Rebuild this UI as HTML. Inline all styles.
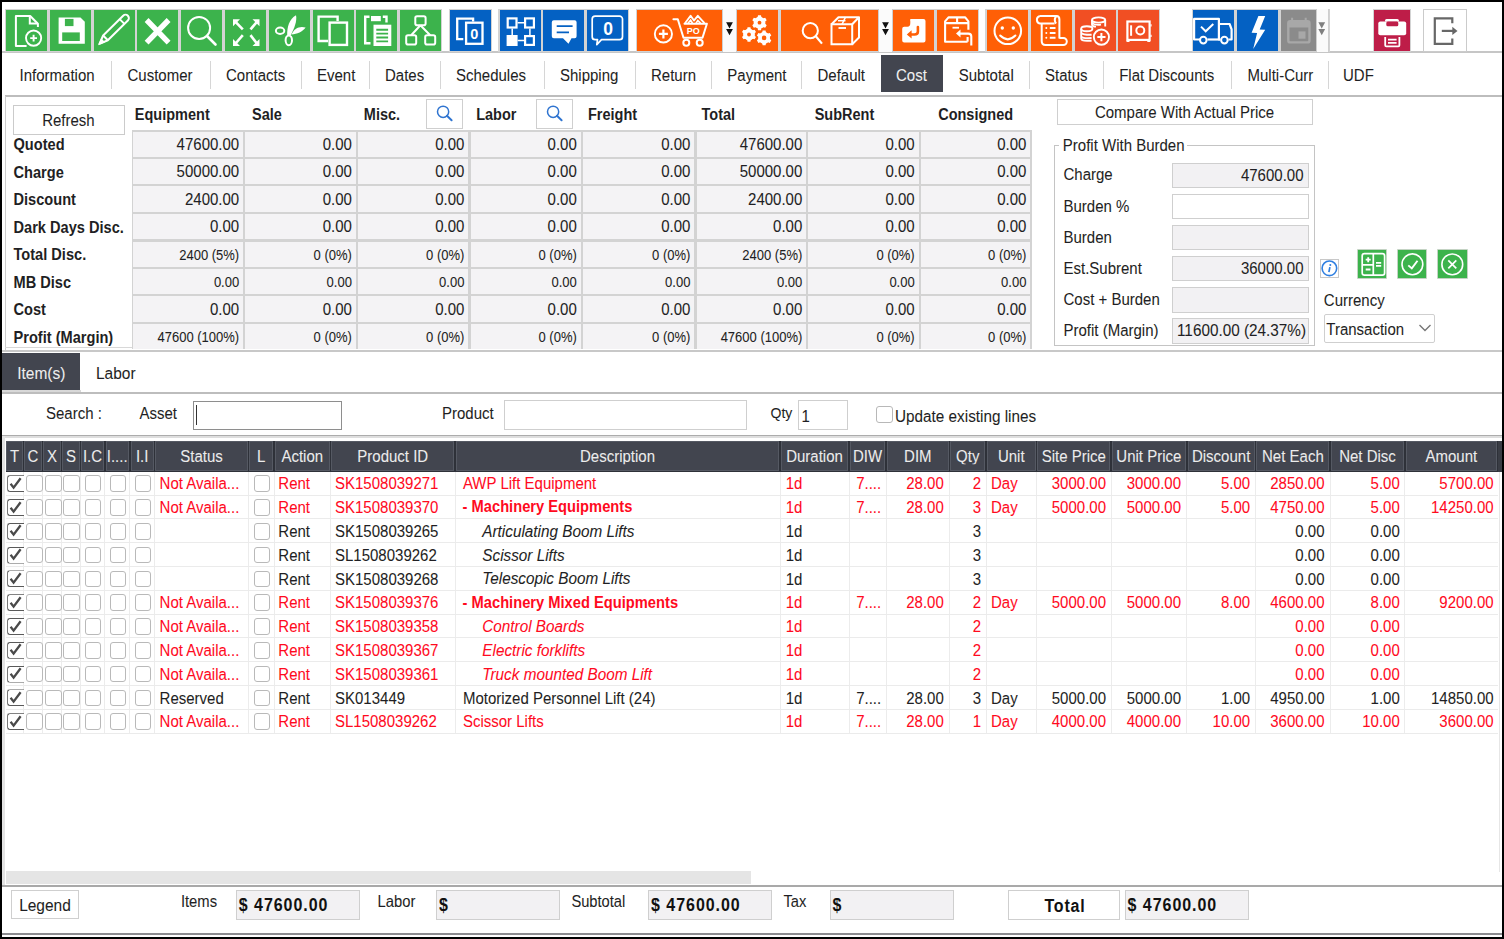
<!DOCTYPE html>
<html><head><meta charset="utf-8"><style>
html,body{margin:0;padding:0}
body{width:1504px;height:939px;background:#000;position:relative;overflow:hidden;font-family:"Liberation Sans",sans-serif}
#m{position:absolute;left:2px;top:2px;width:1500px;height:935px;background:#fff;overflow:hidden}
.a{position:absolute}
.t{white-space:nowrap}
svg{display:block}
</style></head><body><div id="m" style="left:0;top:0;width:1504px;height:939px;background:transparent">
<div class="a" style="left:2px;top:2px;width:1500px;height:935px;background:#fff"></div>
<div class="a" style="left:2px;top:51px;width:1500px;height:2px;background:#c6c6c6"></div>
<div class="a" style="left:4.8px;top:9px;width:437.4px;height:43px;background:#d3d3d3"></div>
<div class="a" style="left:448.8px;top:9px;width:43.4px;height:43px;background:#d3d3d3"></div>
<div class="a" style="left:498.3px;top:9px;width:131.00000000000003px;height:43px;background:#d3d3d3"></div>
<div class="a" style="left:635.8px;top:9px;width:343.4px;height:43px;background:#d3d3d3"></div>
<div class="a" style="left:985.3px;top:9px;width:175.19999999999996px;height:43px;background:#d3d3d3"></div>
<div class="a" style="left:1191.8px;top:9px;width:138.4px;height:43px;background:#d3d3d3"></div>
<div class="a" style="left:1373.1px;top:9px;width:37.9px;height:43px;background:#d3d3d3"></div>
<div class="a" style="left:6.0px;top:10px;width:41px;height:41px;background:#3cb34c"><svg width="41" height="41" viewBox="0 0 41 41" ><path d="M20.6 36H9.9V6H24.2L31.9 13.7V17" fill="none" stroke="#fff" stroke-width="2" stroke-linejoin="round"/><path d="M23.8 6V13.6H31.9" fill="none" stroke="#fff" stroke-width="2"/><circle cx="27.6" cy="28.1" r="7.6" fill="none" stroke="#fff" stroke-width="1.9"/><path d="M27.6 24.7V31.5M24.2 28.1H31" fill="none" stroke="#fff" stroke-width="1.9"/></svg></div>
<div class="a" style="left:49.8px;top:10px;width:41px;height:41px;background:#3cb34c"><svg width="41" height="41" viewBox="0 0 41 41" ><path d="M8.6 7.5H30.5L34.8 11.8V33.7H8.6Z" fill="#fff"/><rect x="14.9" y="8.9" width="8.6" height="7.2" fill="#3cb34c"/><rect x="12.2" y="22.4" width="17.6" height="8.6" fill="#3cb34c"/></svg></div>
<div class="a" style="left:93.6px;top:10px;width:41px;height:41px;background:#3cb34c"><svg width="41" height="41" viewBox="0 0 41 41" ><g transform="rotate(-44.7 19.5 19.95)"><path d="M-0.2 19.95L8.2 16.6H36.4A3.35 3.35 0 0 1 36.4 23.3H8.2Z" fill="none" stroke="#fff" stroke-width="2" stroke-linejoin="round"/><path d="M8.2 16.6V23.3M31.5 16.6V23.3" fill="none" stroke="#fff" stroke-width="2"/><path d="M-0.2 19.95L4.2 18.2V21.7Z" fill="#fff" stroke="#fff" stroke-width="1.5"/></g></svg></div>
<div class="a" style="left:137.39999999999998px;top:10px;width:41px;height:41px;background:#3cb34c"><svg width="41" height="41" viewBox="0 0 41 41" ><path d="M9.6 10L31.6 32.6M31.6 10L9.6 32.6" fill="none" stroke="#fff" stroke-width="5.4" stroke-linecap="butt"/></svg></div>
<div class="a" style="left:181.2px;top:10px;width:41px;height:41px;background:#3cb34c"><svg width="41" height="41" viewBox="0 0 41 41" ><circle cx="18.1" cy="17.9" r="11" fill="none" stroke="#fff" stroke-width="2"/><path d="M26 26L34.5 34.5" fill="none" stroke="#fff" stroke-width="2.6" stroke-linecap="round"/></svg></div>
<div class="a" style="left:225.0px;top:10px;width:41px;height:41px;background:#3cb34c"><svg width="41" height="41" viewBox="0 0 41 41" ><path d="M8 9.3H15L8 16.3Z" fill="#fff"/><path d="M11 12.3L17.8 19.3" fill="none" stroke="#fff" stroke-width="2.6"/><path d="M34.5 9.3H27.5L34.5 16.3Z" fill="#fff"/><path d="M31.5 12.3L25.5 19.3" fill="none" stroke="#fff" stroke-width="2.6"/><path d="M8 36H15L8 29Z" fill="#fff"/><path d="M11 33L17.8 25.1" fill="none" stroke="#fff" stroke-width="2.6"/><path d="M34.5 36H27.5L34.5 29Z" fill="#fff"/><path d="M31.5 33L25.5 25.1" fill="none" stroke="#fff" stroke-width="2.6"/></svg></div>
<div class="a" style="left:268.79999999999995px;top:10px;width:41px;height:41px;background:#3cb34c"><svg width="41" height="41" viewBox="0 0 41 41" ><ellipse cx="11.1" cy="20.8" rx="4.2" ry="3.2" fill="none" stroke="#fff" stroke-width="2"/><ellipse cx="19.8" cy="30.3" rx="3.2" ry="4.9" fill="none" stroke="#fff" stroke-width="2"/><path d="M27 5.2C20.5 8.8 17.8 17 18.2 25.6L21.8 25.2C25.2 18.2 28.3 11 27 5.2Z" fill="#fff"/><path d="M36.6 17.6C31 15.6 25 18.3 22.4 24.6C28.2 24.3 33.6 21.8 36.6 17.6Z" fill="#fff"/></svg></div>
<div class="a" style="left:312.59999999999997px;top:10px;width:41px;height:41px;background:#3cb34c"><svg width="41" height="41" viewBox="0 0 41 41" ><path d="M15 31H5.6V6.6H24.6V11" fill="none" stroke="#fff" stroke-width="2.4"/><rect x="16.6" y="12.6" width="17.4" height="22.3" fill="none" stroke="#fff" stroke-width="2.4"/></svg></div>
<div class="a" style="left:356.4px;top:10px;width:41px;height:41px;background:#3cb34c"><svg width="41" height="41" viewBox="0 0 41 41" ><path d="M13.5 6.8H9.2V33.2H14.5" fill="none" stroke="#fff" stroke-width="2.4"/><rect x="15" y="6" width="9.8" height="5.2" fill="#fff"/><path d="M26.8 6.8H30.5V12.5" fill="none" stroke="#fff" stroke-width="2.4"/><rect x="17.5" y="14.7" width="17.8" height="21.3" fill="#fff"/><path d="M20.3 19.7H32.1M20.3 23.6H32.1M20.3 27.5H32.1M20.3 31.4H32.1" stroke="#3cb34c" stroke-width="1.9"/></svg></div>
<div class="a" style="left:400.2px;top:10px;width:41px;height:41px;background:#3cb34c"><svg width="41" height="41" viewBox="0 0 41 41" ><rect x="15.3" y="6.2" width="10.3" height="9" rx="1.8" fill="none" stroke="#fff" stroke-width="2"/><rect x="6.2" y="25.2" width="10" height="9.4" rx="1.8" fill="none" stroke="#fff" stroke-width="2"/><rect x="25.2" y="25.2" width="10" height="9.4" rx="1.8" fill="none" stroke="#fff" stroke-width="2"/><path d="M20.4 15.2L11.2 25.2M20.4 15.2L30.2 25.2" fill="none" stroke="#fff" stroke-width="2"/></svg></div>
<div class="a" style="left:450px;top:10px;width:41px;height:41px;background:#0461c3"><svg width="41" height="41" viewBox="0 0 41 41" ><path d="M13.3 29.2H7.2V8.6H23.1V11.5" fill="none" stroke="#fff" stroke-width="2.3"/><rect x="16.1" y="12.7" width="16.4" height="21.1" fill="none" stroke="#fff" stroke-width="2.3"/><text x="24.4" y="28.6" font-family="Liberation Sans" font-weight="bold" font-size="14.5" fill="#fff" text-anchor="middle">0</text></svg></div>
<div class="a" style="left:499.5px;top:10px;width:41px;height:41px;background:#0461c3"><svg width="41" height="41" viewBox="0 0 41 41" ><rect x="7.7" y="8.4" width="8.8" height="9.1" fill="none" stroke="#fff" stroke-width="2.2"/><rect x="25.1" y="8.4" width="8.8" height="9.1" fill="none" stroke="#fff" stroke-width="2.2"/><rect x="6.6" y="25" width="11" height="11" fill="#fff"/><rect x="25.1" y="26.1" width="8.8" height="8.8" fill="none" stroke="#fff" stroke-width="2.2"/><path d="M17.6 12.7H24M12.2 18.6V25M29.9 18.6V25M17.6 30.6H24" fill="none" stroke="#fff" stroke-width="1.5"/></svg></div>
<div class="a" style="left:543.3px;top:10px;width:41px;height:41px;background:#0461c3"><svg width="41" height="41" viewBox="0 0 41 41" ><path d="M10.8 10.2H31.6A2 2 0 0 1 33.6 12.2V26.3A2 2 0 0 1 31.6 28.3H28.5L25.5 33.7L20 28.3H10.8A2 2 0 0 1 8.8 26.3V12.2A2 2 0 0 1 10.8 10.2Z" fill="#fff"/><path d="M13.7 16.1H29.6M13.7 22.4H26" stroke="#0461c3" stroke-width="1.9"/></svg></div>
<div class="a" style="left:587.1px;top:10px;width:41px;height:41px;background:#0461c3"><svg width="41" height="41" viewBox="0 0 41 41" ><path d="M8.2 6.1H32.5A3 3 0 0 1 35.5 9.1V26.7A3 3 0 0 1 32.5 29.7H14.5L9.8 34.6L10.5 29.7H8.2A3 3 0 0 1 5.2 26.7V9.1A3 3 0 0 1 8.2 6.1Z" fill="none" stroke="#fff" stroke-width="1.7" stroke-linejoin="round"/><text x="21" y="24.9" font-family="Liberation Sans" font-weight="bold" font-size="17.5" fill="#fff" text-anchor="middle">0</text></svg></div>
<div class="a" style="left:637px;top:10px;width:85px;height:41px;background:#ff5f06"><svg width="85" height="41" viewBox="0 0 85 41" ><circle cx="26.4" cy="23.9" r="8.6" fill="none" stroke="#fff" stroke-width="1.9"/><path d="M26.4 19.4V28.4M21.9 23.9H30.9" fill="none" stroke="#fff" stroke-width="2.2"/><path d="M36.4 9.2H40.8L46.5 27.7H65.5L69.9 13.7H47.5" fill="none" stroke="#fff" stroke-width="2" stroke-linejoin="round" stroke-linecap="round"/><path d="M48 13.2L53.6 5.8L57 10.5L60.8 5.8L67.5 13.2" fill="none" stroke="#fff" stroke-width="1.9" stroke-linejoin="round"/><path d="M51 13.2L53.6 10.2L55.5 13.2M59 13.2L60.8 10.6L63.5 13.2" fill="none" stroke="#fff" stroke-width="1.6"/><text x="56.2" y="24.3" font-family="Liberation Sans" font-weight="bold" font-size="9" fill="#fff" text-anchor="middle">PO</text><circle cx="49.3" cy="32.8" r="3" fill="none" stroke="#fff" stroke-width="2"/><circle cx="62.7" cy="32.8" r="3" fill="none" stroke="#fff" stroke-width="2"/></svg></div>
<div class="a" style="left:722px;top:9px;width:15px;height:43px;background:#fbfbfb;border-left:1.5px solid #cfcfcf;border-right:1.5px solid #cfcfcf;box-sizing:border-box"><svg width="15" height="43" style="position:absolute;left:-1.5px;top:0"><path d="M4.1 13.3H10.9L7.5 19.5Z M4.1 20H10.9L7.5 26.3Z" fill="#111"/></svg></div>
<div class="a" style="left:737px;top:10px;width:41px;height:41px;background:#ff5f06"><svg width="41" height="41" viewBox="0 0 41 41" ><path d="M20.62 7.11 L21.03 5.24 L23.97 5.24 L24.38 7.11 L26.40 8.27 L28.22 7.70 L29.69 10.25 L28.28 11.53 L28.28 13.87 L29.69 15.15 L28.22 17.70 L26.40 17.13 L24.38 18.29 L23.97 20.16 L21.03 20.16 L20.62 18.29 L18.60 17.13 L16.78 17.70 L15.31 15.15 L16.72 13.87 L16.72 11.53 L15.31 10.25 L16.78 7.70 L18.60 8.27Z" fill="#fff"/><circle cx="22.5" cy="12.7" r="5.66" fill="#fff"/><circle cx="22.5" cy="12.7" r="1.9" fill="#ff5f06"/><path d="M10.15 19.00 L10.57 17.24 L13.43 17.24 L13.85 19.00 L15.84 20.15 L17.57 19.63 L19.00 22.11 L17.69 23.35 L17.69 25.65 L19.00 26.89 L17.57 29.37 L15.84 28.85 L13.85 30.00 L13.43 31.76 L10.57 31.76 L10.15 30.00 L8.16 28.85 L6.43 29.37 L5.00 26.89 L6.31 25.65 L6.31 23.35 L5.00 22.11 L6.43 19.63 L8.16 20.15Z" fill="#fff"/><circle cx="12" cy="24.5" r="5.57" fill="#fff"/><circle cx="12" cy="24.5" r="1.9" fill="#ff5f06"/><path d="M25.22 22.31 L25.63 20.44 L28.57 20.44 L28.98 22.31 L31.00 23.47 L32.82 22.90 L34.29 25.45 L32.88 26.73 L32.88 29.07 L34.29 30.35 L32.82 32.90 L31.00 32.33 L28.98 33.49 L28.57 35.36 L25.63 35.36 L25.22 33.49 L23.20 32.33 L21.38 32.90 L19.91 30.35 L21.32 29.07 L21.32 26.73 L19.91 25.45 L21.38 22.90 L23.20 23.47Z" fill="#fff"/><circle cx="27.1" cy="27.9" r="5.66" fill="#fff"/><circle cx="27.1" cy="27.9" r="2.3" fill="#ff5f06"/></svg></div>
<div class="a" style="left:781px;top:10px;width:97px;height:41px;background:#ff5f06"><svg width="97" height="41" viewBox="0 0 97 41" ><circle cx="29.3" cy="20.7" r="7.6" fill="none" stroke="#fff" stroke-width="2"/><path d="M34.8 26.3L41 33.6" fill="none" stroke="#fff" stroke-width="2.2"/><path d="M50.5 14.3H71.2V34.3H50.5Z" fill="none" stroke="#fff" stroke-width="2"/><path d="M50.5 14.3L57.5 7.2H78L71.2 14.3M78 7.2V27.5L71.2 34.3" fill="none" stroke="#fff" stroke-width="2" stroke-linejoin="round"/><path d="M57 10.7H64.5" fill="none" stroke="#fff" stroke-width="1.5"/><path d="M64.5 7.2L61 14.3" fill="none" stroke="#fff" stroke-width="1.5"/><path d="M57.5 18H65" fill="none" stroke="#fff" stroke-width="1.9"/></svg></div>
<div class="a" style="left:878px;top:9px;width:15px;height:43px;background:#fbfbfb;border-left:1.5px solid #cfcfcf;border-right:1.5px solid #cfcfcf;box-sizing:border-box"><svg width="15" height="43" style="position:absolute;left:-1.5px;top:0"><path d="M4.1 13.3H10.9L7.5 19.5Z M4.1 20H10.9L7.5 26.3Z" fill="#111"/></svg></div>
<div class="a" style="left:893px;top:10px;width:41px;height:41px;background:#ff5f06"><svg width="41" height="41" viewBox="0 0 41 41" ><path d="M17.5 9H30.5A2 2 0 0 1 32.5 11V30.5A2 2 0 0 1 30.5 32.5H11.2A2 2 0 0 1 9.2 30.5V18.8A2 2 0 0 1 11.2 16.8H14.5Q17.3 16.8 17.3 13V11A2 2 0 0 1 17.5 9Z" fill="#fff"/><path d="M24.9 17V21.5Q24.9 24.5 21.5 24.5H16.5" fill="none" stroke="#ff5f06" stroke-width="2.6" stroke-linecap="round"/><path d="M13.8 24.5L18.6 20.3V28.6Z" fill="#ff5f06"/></svg></div>
<div class="a" style="left:937px;top:10px;width:41px;height:41px;background:#ff5f06"><svg width="41" height="41" viewBox="0 0 41 41" ><path d="M30.6 31.7H8.1V11.4L11.5 7.4H28.2L31.4 11.4V19.7" fill="none" stroke="#fff" stroke-width="2.1" stroke-linejoin="round"/><path d="M8.1 13.1H31.4M20.1 7.4V13.1" fill="none" stroke="#fff" stroke-width="2.1"/><path d="M15.5 17.7H22" fill="none" stroke="#fff" stroke-width="1.8"/><path d="M30.6 27V31.7" fill="none" stroke="#fff" stroke-width="2.1"/><path d="M34.3 35.6V26.6Q34.3 23.6 31.3 23.6H22.5" fill="none" stroke="#fff" stroke-width="2.1"/><path d="M19 23.6L23.5 19.6V27.6Z" fill="#fff"/></svg></div>
<div class="a" style="left:986.5px;top:10px;width:41px;height:41px;background:#ff5f06"><svg width="41" height="41" viewBox="0 0 41 41" ><circle cx="20.8" cy="20.8" r="13.3" fill="none" stroke="#fff" stroke-width="2"/><circle cx="15.3" cy="18" r="1.7" fill="#fff"/><circle cx="26.3" cy="18" r="1.7" fill="#fff"/><path d="M13.2 25.6Q20.8 33 28.4 25.6" fill="none" stroke="#fff" stroke-width="2.1" stroke-linecap="round"/></svg></div>
<div class="a" style="left:1031px;top:10px;width:41px;height:41px;background:#ff5f06"><svg width="41" height="41" viewBox="0 0 41 41" ><path d="M8.9 6H25.6Q28.4 6 28.4 9.5V28.5" fill="none" stroke="#fff" stroke-width="2"/><path d="M8.9 6A3.9 3.9 0 0 0 8.9 13.6H23.6" fill="none" stroke="#fff" stroke-width="2"/><path d="M25.3 6.2Q22.5 9.8 25 13.6" fill="none" stroke="#fff" stroke-width="2"/><path d="M10.7 13.6V31Q10.7 35 14.5 35H32.3A3.5 3.5 0 0 0 32.3 28H28.4" fill="none" stroke="#fff" stroke-width="2"/><path d="M18.8 17.9H24.5M18.8 22.9H24.5M18.8 27.7H24.5" fill="none" stroke="#fff" stroke-width="2"/><circle cx="15.3" cy="17.9" r="1" fill="#fff"/><circle cx="15.3" cy="22.9" r="1" fill="#fff"/><circle cx="15.3" cy="27.7" r="1" fill="#fff"/></svg></div>
<div class="a" style="left:1074.7px;top:10px;width:41px;height:41px;background:#f14f23"><svg width="41" height="41" viewBox="0 0 41 41" ><ellipse cx="23.6" cy="10" rx="6.6" ry="2.6" fill="none" stroke="#fff" stroke-width="1.9"/><path d="M17 10V14.2Q17 16.6 21 16.6M30.2 10V16.5" fill="none" stroke="#fff" stroke-width="1.9"/><path d="M17 13.2Q21 15.6 26 14.6" fill="none" stroke="#fff" stroke-width="1.6"/><ellipse cx="11.8" cy="18.8" rx="5.6" ry="2.5" fill="none" stroke="#fff" stroke-width="1.9"/><path d="M6.2 18.8V28.5Q6.2 30.8 12 30.8H16.6M6.2 22.8Q8 25 16.6 24.8M6.2 26.6Q8 28.6 16.6 28" fill="none" stroke="#fff" stroke-width="1.9"/><circle cx="26.4" cy="27.1" r="7.6" fill="none" stroke="#fff" stroke-width="1.9"/><path d="M26.4 23V31.2M22.3 27.1H30.5" fill="none" stroke="#fff" stroke-width="2"/></svg></div>
<div class="a" style="left:1118.3px;top:10px;width:41px;height:41px;background:#f14f23"><svg width="41" height="41" viewBox="0 0 41 41" ><rect x="9.4" y="11.5" width="22.2" height="18.4" fill="none" stroke="#fff" stroke-width="2.2"/><path d="M10 30.5V32M30.8 30.5V32" fill="none" stroke="#fff" stroke-width="3"/><path d="M32.4 15.3H33.6M32.4 25.8H33.6" fill="none" stroke="#fff" stroke-width="2.2"/><path d="M13.1 15.3V25.8" fill="none" stroke="#fff" stroke-width="2"/><circle cx="22.3" cy="20.5" r="4" fill="none" stroke="#fff" stroke-width="2"/></svg></div>
<div class="a" style="left:1193px;top:10px;width:41px;height:41px;background:#0461c3"><svg width="41" height="41" viewBox="0 0 41 41" ><path d="M7 29.5H1.1V8.9H25.9V29.5H27.2M35.4 29.5H38.6V19.4L36.6 14H25.9" fill="none" stroke="#fff" stroke-width="2.2" stroke-linejoin="round"/><path d="M14.4 29.5H27.2" fill="none" stroke="#fff" stroke-width="2.2"/><circle cx="10.3" cy="30.1" r="3.3" fill="none" stroke="#fff" stroke-width="2"/><circle cx="31.4" cy="30.1" r="3.3" fill="none" stroke="#fff" stroke-width="2"/><path d="M8 16.6L12.7 21.3L20.3 14" fill="none" stroke="#fff" stroke-width="2"/></svg></div>
<div class="a" style="left:1237px;top:10px;width:41px;height:41px;background:#0461c3"><svg width="41" height="41" viewBox="0 0 41 41" ><path d="M21.4 6.1H28.2L22.7 19.4L28.2 19.7L16.2 38.9L20.1 23L14.6 22.8Z" fill="#fff"/></svg></div>
<div class="a" style="left:1281px;top:10px;width:35px;height:41px;background:#8b8b8b"><svg width="35" height="41" viewBox="0 0 35 41" ><rect x="7.3" y="11.2" width="21.2" height="21.2" rx="2" fill="none" stroke="#a8a8a8" stroke-width="2.4"/><rect x="7.3" y="11.2" width="21.2" height="6.3" fill="#a8a8a8"/><path d="M11.1 7.8V11M24.7 7.8V11" stroke="#a8a8a8" stroke-width="2"/><rect x="17.5" y="21.4" width="7" height="7.3" fill="#a8a8a8"/></svg></div>
<div class="a" style="left:1315.5px;top:9px;width:13.5px;height:43px;background:#fbfbfb;border-left:1.5px solid #cfcfcf;border-right:1.5px solid #cfcfcf;box-sizing:border-box"><svg width="13.5" height="43" style="position:absolute;left:-1.5px;top:0"><path d="M3.35 13.3H10.15L6.75 19.5Z M3.35 20H10.15L6.75 26.3Z" fill="#808080"/></svg></div>
<div class="a" style="left:1374.3px;top:10px;width:35.5px;height:41px;background:#be1d48"><svg width="35.5" height="41" viewBox="0 0 35.5 41" ><path d="M11 11.6V10.5Q11 9 12.5 9H23.4Q24.9 9 24.9 10.5V11.6" fill="#fff"/><rect x="4.3" y="11.6" width="27.9" height="13.7" rx="2" fill="#fff"/><rect x="12.3" y="11.6" width="12" height="4.7" rx="1.5" fill="#be1d48"/><path d="M11.2 27V35.2Q11.2 36.3 12.3 36.3H24.3Q25.4 36.3 25.4 35.2V27" fill="none" stroke="#fff" stroke-width="1.8"/><path d="M14 29.6H22.6M14 32.9H22.6" fill="none" stroke="#fff" stroke-width="1.8"/></svg></div>
<div class="a" style="left:1423px;top:9px;width:44px;height:43px;background:#fff;border:1.3px solid #cbcbcb;box-sizing:border-box"><svg width="44" height="43" style="position:absolute;left:-1.3px;top:-1.3px"><path d="M29.3 14.3V9.3H11.8V34.9H29.3V29.6" fill="none" stroke="#676767" stroke-width="2.2"/><path d="M18.8 21.9H32" fill="none" stroke="#676767" stroke-width="2.2"/><path d="M34.5 21.9L29.3 17.8V26Z" fill="#676767"/></svg></div>
<div class="a" style="left:111px;top:61px;width:1px;height:28px;background:#d6d6d6"></div>
<div class="a" style="left:210px;top:61px;width:1px;height:28px;background:#d6d6d6"></div>
<div class="a" style="left:301px;top:61px;width:1px;height:28px;background:#d6d6d6"></div>
<div class="a" style="left:368.75px;top:61px;width:1px;height:28px;background:#d6d6d6"></div>
<div class="a" style="left:440px;top:61px;width:1px;height:28px;background:#d6d6d6"></div>
<div class="a" style="left:543.75px;top:61px;width:1px;height:28px;background:#d6d6d6"></div>
<div class="a" style="left:635px;top:61px;width:1px;height:28px;background:#d6d6d6"></div>
<div class="a" style="left:711px;top:61px;width:1px;height:28px;background:#d6d6d6"></div>
<div class="a" style="left:801px;top:61px;width:1px;height:28px;background:#d6d6d6"></div>
<div class="a" style="left:1028.75px;top:61px;width:1px;height:28px;background:#d6d6d6"></div>
<div class="a" style="left:1102.5px;top:61px;width:1px;height:28px;background:#d6d6d6"></div>
<div class="a" style="left:1231px;top:61px;width:1px;height:28px;background:#d6d6d6"></div>
<div class="a" style="left:1327.5px;top:61px;width:1px;height:28px;background:#d6d6d6"></div>
<div class="a" style="left:880.75px;top:55px;width:61.75px;height:37px;background:#42454f"></div>
<div class="a t" style="left:19.6px;top:68.30px;font-size:15px;line-height:15px;color:#1f1f24;transform:scaleY(1.1);transform-origin:0 12.70px;-webkit-text-stroke:0.06px currentColor">Information</div>
<div class="a t" style="left:127.5px;top:68.30px;font-size:15px;line-height:15px;color:#1f1f24;transform:scaleY(1.1);transform-origin:0 12.70px;-webkit-text-stroke:0.06px currentColor">Customer</div>
<div class="a t" style="left:226px;top:68.30px;font-size:15px;line-height:15px;color:#1f1f24;transform:scaleY(1.1);transform-origin:0 12.70px;-webkit-text-stroke:0.06px currentColor">Contacts</div>
<div class="a t" style="left:317px;top:68.30px;font-size:15px;line-height:15px;color:#1f1f24;transform:scaleY(1.1);transform-origin:0 12.70px;-webkit-text-stroke:0.06px currentColor">Event</div>
<div class="a t" style="left:385px;top:68.30px;font-size:15px;line-height:15px;color:#1f1f24;transform:scaleY(1.1);transform-origin:0 12.70px;-webkit-text-stroke:0.06px currentColor">Dates</div>
<div class="a t" style="left:456px;top:68.30px;font-size:15px;line-height:15px;color:#1f1f24;transform:scaleY(1.1);transform-origin:0 12.70px;-webkit-text-stroke:0.06px currentColor">Schedules</div>
<div class="a t" style="left:560px;top:68.30px;font-size:15px;line-height:15px;color:#1f1f24;transform:scaleY(1.1);transform-origin:0 12.70px;-webkit-text-stroke:0.06px currentColor">Shipping</div>
<div class="a t" style="left:651px;top:68.30px;font-size:15px;line-height:15px;color:#1f1f24;transform:scaleY(1.1);transform-origin:0 12.70px;-webkit-text-stroke:0.06px currentColor">Return</div>
<div class="a t" style="left:727.3px;top:68.30px;font-size:15px;line-height:15px;color:#1f1f24;transform:scaleY(1.1);transform-origin:0 12.70px;-webkit-text-stroke:0.06px currentColor">Payment</div>
<div class="a t" style="left:817.5px;top:68.30px;font-size:15px;line-height:15px;color:#1f1f24;transform:scaleY(1.1);transform-origin:0 12.70px;-webkit-text-stroke:0.06px currentColor">Default</div>
<div class="a t" style="left:896px;top:68.30px;font-size:15px;line-height:15px;color:#f0f0f0;transform:scaleY(1.1);transform-origin:0 12.70px;-webkit-text-stroke:0.06px currentColor">Cost</div>
<div class="a t" style="left:958.75px;top:68.30px;font-size:15px;line-height:15px;color:#1f1f24;transform:scaleY(1.1);transform-origin:0 12.70px;-webkit-text-stroke:0.06px currentColor">Subtotal</div>
<div class="a t" style="left:1045px;top:68.30px;font-size:15px;line-height:15px;color:#1f1f24;transform:scaleY(1.1);transform-origin:0 12.70px;-webkit-text-stroke:0.06px currentColor">Status</div>
<div class="a t" style="left:1119.2px;top:68.30px;font-size:15px;line-height:15px;color:#1f1f24;transform:scaleY(1.1);transform-origin:0 12.70px;-webkit-text-stroke:0.06px currentColor">Flat Discounts</div>
<div class="a t" style="left:1247.5px;top:68.30px;font-size:15px;line-height:15px;color:#1f1f24;transform:scaleY(1.1);transform-origin:0 12.70px;-webkit-text-stroke:0.06px currentColor">Multi-Curr</div>
<div class="a t" style="left:1343px;top:68.30px;font-size:15px;line-height:15px;color:#1f1f24;transform:scaleY(1.1);transform-origin:0 12.70px;-webkit-text-stroke:0.06px currentColor">UDF</div>
<div class="a" style="left:4.7px;top:95.3px;width:1497.3px;height:2.1px;background:#bdbdbd"></div>
<div class="a" style="left:4.7px;top:96px;width:1.4px;height:254px;background:#cdcdcd"></div>
<div class="a" style="left:2px;top:350px;width:1500px;height:1.5px;background:#c8c8c8"></div>
<div class="a" style="left:5px;top:347px;width:127.5px;height:1.2px;background:#d8d8d8"></div>
<div class="a" style="left:13.1px;top:105px;width:112.4px;height:29.6px;border:1.2px solid #cbcbcb;box-sizing:border-box;background:#fff"></div>
<div class="a t" style="left:13.400000000000006px;width:110px;text-align:center;top:112.80px;font-size:15px;line-height:15px;color:#1f1f24;transform:scaleY(1.1);transform-origin:0 12.70px;-webkit-text-stroke:0.06px currentColor">Refresh</div>
<div class="a t" style="left:134.8px;top:107.93px;font-size:14.5px;line-height:14.5px;font-weight:bold;color:#1f1f24;transform:scaleY(1.1);transform-origin:0 12.27px;-webkit-text-stroke:0px currentColor">Equipment</div>
<div class="a t" style="left:252px;top:107.93px;font-size:14.5px;line-height:14.5px;font-weight:bold;color:#1f1f24;transform:scaleY(1.1);transform-origin:0 12.27px;-webkit-text-stroke:0px currentColor">Sale</div>
<div class="a t" style="left:363.8px;top:107.93px;font-size:14.5px;line-height:14.5px;font-weight:bold;color:#1f1f24;transform:scaleY(1.1);transform-origin:0 12.27px;-webkit-text-stroke:0px currentColor">Misc.</div>
<div class="a t" style="left:476.2px;top:107.93px;font-size:14.5px;line-height:14.5px;font-weight:bold;color:#1f1f24;transform:scaleY(1.1);transform-origin:0 12.27px;-webkit-text-stroke:0px currentColor">Labor</div>
<div class="a t" style="left:588px;top:107.93px;font-size:14.5px;line-height:14.5px;font-weight:bold;color:#1f1f24;transform:scaleY(1.1);transform-origin:0 12.27px;-webkit-text-stroke:0px currentColor">Freight</div>
<div class="a t" style="left:701.5px;top:107.93px;font-size:14.5px;line-height:14.5px;font-weight:bold;color:#1f1f24;transform:scaleY(1.1);transform-origin:0 12.27px;-webkit-text-stroke:0px currentColor">Total</div>
<div class="a t" style="left:814.7px;top:107.93px;font-size:14.5px;line-height:14.5px;font-weight:bold;color:#1f1f24;transform:scaleY(1.1);transform-origin:0 12.27px;-webkit-text-stroke:0px currentColor">SubRent</div>
<div class="a t" style="left:938.2px;top:107.93px;font-size:14.5px;line-height:14.5px;font-weight:bold;color:#1f1f24;transform:scaleY(1.1);transform-origin:0 12.27px;-webkit-text-stroke:0px currentColor">Consigned</div>
<div class="a" style="left:426.1px;top:99.3px;width:36.5px;height:30px;border:1.2px solid #cfcfcf;box-sizing:border-box;background:#fff"><svg width="36" height="30" style="position:absolute;left:-1.2px;top:-1.2px"><circle cx="17.1" cy="12.8" r="5.6" fill="none" stroke="#2f74d0" stroke-width="1.5"/><path d="M21 16.8L25.6 21.2" stroke="#2f74d0" stroke-width="2" stroke-linecap="round"/></svg></div>
<div class="a" style="left:536px;top:99.3px;width:36.5px;height:30px;border:1.2px solid #cfcfcf;box-sizing:border-box;background:#fff"><svg width="36" height="30" style="position:absolute;left:-1.2px;top:-1.2px"><circle cx="17.1" cy="12.8" r="5.6" fill="none" stroke="#2f74d0" stroke-width="1.5"/><path d="M21 16.8L25.6 21.2" stroke="#2f74d0" stroke-width="2" stroke-linecap="round"/></svg></div>
<div class="a" style="left:132.2px;top:130.3px;width:899.0px;height:218.89999999999998px;background:#f4f3f5"></div>
<div class="a" style="left:132.2px;top:130.3px;width:899.0px;height:1.3px;background:#d3d3d3"></div>
<div class="a" style="left:132.2px;top:156.9px;width:899.0px;height:2.2px;background:#d3d3d3"></div>
<div class="a" style="left:132.2px;top:184.20000000000002px;width:899.0px;height:2.2px;background:#d3d3d3"></div>
<div class="a" style="left:132.2px;top:211.5px;width:899.0px;height:2.2px;background:#d3d3d3"></div>
<div class="a" style="left:132.2px;top:239.4px;width:899.0px;height:2.2px;background:#d3d3d3"></div>
<div class="a" style="left:132.2px;top:266.79999999999995px;width:899.0px;height:2.2px;background:#d3d3d3"></div>
<div class="a" style="left:132.2px;top:294.09999999999997px;width:899.0px;height:2.2px;background:#d3d3d3"></div>
<div class="a" style="left:132.2px;top:321.7px;width:899.0px;height:2.2px;background:#d3d3d3"></div>
<div class="a" style="left:132.2px;top:130.3px;width:1.2px;height:218.89999999999998px;background:#d3d3d3"></div>
<div class="a" style="left:243px;top:130.3px;width:2.4px;height:218.89999999999998px;background:#d3d3d3"></div>
<div class="a" style="left:355.7px;top:130.3px;width:2.4px;height:218.89999999999998px;background:#d3d3d3"></div>
<div class="a" style="left:468.2px;top:130.3px;width:2.4px;height:218.89999999999998px;background:#d3d3d3"></div>
<div class="a" style="left:580.6px;top:130.3px;width:2.4px;height:218.89999999999998px;background:#d3d3d3"></div>
<div class="a" style="left:694.2px;top:130.3px;width:2.4px;height:218.89999999999998px;background:#d3d3d3"></div>
<div class="a" style="left:806.1px;top:130.3px;width:2.4px;height:218.89999999999998px;background:#d3d3d3"></div>
<div class="a" style="left:918.5px;top:130.3px;width:2.4px;height:218.89999999999998px;background:#d3d3d3"></div>
<div class="a" style="left:1030.4px;top:130.3px;width:1.2px;height:218.89999999999998px;background:#d3d3d3"></div>
<div class="a t" style="left:13.5px;top:138.44px;font-size:14.6px;line-height:14.6px;font-weight:bold;color:#1f1f24;transform:scaleY(1.1);transform-origin:0 12.36px;-webkit-text-stroke:0px currentColor">Quoted</div>
<div class="a t" style="left:129.2px;width:110px;text-align:right;top:136.90px;font-size:15px;line-height:15px;color:#1f1f24;transform:scaleY(1.1);transform-origin:0 12.70px;-webkit-text-stroke:0.06px currentColor">47600.00</div>
<div class="a t" style="left:241.89999999999998px;width:110px;text-align:right;top:136.90px;font-size:15px;line-height:15px;color:#1f1f24;transform:scaleY(1.1);transform-origin:0 12.70px;-webkit-text-stroke:0.06px currentColor">0.00</div>
<div class="a t" style="left:354.4px;width:110px;text-align:right;top:136.90px;font-size:15px;line-height:15px;color:#1f1f24;transform:scaleY(1.1);transform-origin:0 12.70px;-webkit-text-stroke:0.06px currentColor">0.00</div>
<div class="a t" style="left:466.80000000000007px;width:110px;text-align:right;top:136.90px;font-size:15px;line-height:15px;color:#1f1f24;transform:scaleY(1.1);transform-origin:0 12.70px;-webkit-text-stroke:0.06px currentColor">0.00</div>
<div class="a t" style="left:580.4000000000001px;width:110px;text-align:right;top:136.90px;font-size:15px;line-height:15px;color:#1f1f24;transform:scaleY(1.1);transform-origin:0 12.70px;-webkit-text-stroke:0.06px currentColor">0.00</div>
<div class="a t" style="left:692.3000000000001px;width:110px;text-align:right;top:136.90px;font-size:15px;line-height:15px;color:#1f1f24;transform:scaleY(1.1);transform-origin:0 12.70px;-webkit-text-stroke:0.06px currentColor">47600.00</div>
<div class="a t" style="left:804.7px;width:110px;text-align:right;top:136.90px;font-size:15px;line-height:15px;color:#1f1f24;transform:scaleY(1.1);transform-origin:0 12.70px;-webkit-text-stroke:0.06px currentColor">0.00</div>
<div class="a t" style="left:916.4000000000001px;width:110px;text-align:right;top:136.90px;font-size:15px;line-height:15px;color:#1f1f24;transform:scaleY(1.1);transform-origin:0 12.70px;-webkit-text-stroke:0.06px currentColor">0.00</div>
<div class="a t" style="left:13.5px;top:165.94px;font-size:14.6px;line-height:14.6px;font-weight:bold;color:#1f1f24;transform:scaleY(1.1);transform-origin:0 12.36px;-webkit-text-stroke:0px currentColor">Charge</div>
<div class="a t" style="left:129.2px;width:110px;text-align:right;top:164.40px;font-size:15px;line-height:15px;color:#1f1f24;transform:scaleY(1.1);transform-origin:0 12.70px;-webkit-text-stroke:0.06px currentColor">50000.00</div>
<div class="a t" style="left:241.89999999999998px;width:110px;text-align:right;top:164.40px;font-size:15px;line-height:15px;color:#1f1f24;transform:scaleY(1.1);transform-origin:0 12.70px;-webkit-text-stroke:0.06px currentColor">0.00</div>
<div class="a t" style="left:354.4px;width:110px;text-align:right;top:164.40px;font-size:15px;line-height:15px;color:#1f1f24;transform:scaleY(1.1);transform-origin:0 12.70px;-webkit-text-stroke:0.06px currentColor">0.00</div>
<div class="a t" style="left:466.80000000000007px;width:110px;text-align:right;top:164.40px;font-size:15px;line-height:15px;color:#1f1f24;transform:scaleY(1.1);transform-origin:0 12.70px;-webkit-text-stroke:0.06px currentColor">0.00</div>
<div class="a t" style="left:580.4000000000001px;width:110px;text-align:right;top:164.40px;font-size:15px;line-height:15px;color:#1f1f24;transform:scaleY(1.1);transform-origin:0 12.70px;-webkit-text-stroke:0.06px currentColor">0.00</div>
<div class="a t" style="left:692.3000000000001px;width:110px;text-align:right;top:164.40px;font-size:15px;line-height:15px;color:#1f1f24;transform:scaleY(1.1);transform-origin:0 12.70px;-webkit-text-stroke:0.06px currentColor">50000.00</div>
<div class="a t" style="left:804.7px;width:110px;text-align:right;top:164.40px;font-size:15px;line-height:15px;color:#1f1f24;transform:scaleY(1.1);transform-origin:0 12.70px;-webkit-text-stroke:0.06px currentColor">0.00</div>
<div class="a t" style="left:916.4000000000001px;width:110px;text-align:right;top:164.40px;font-size:15px;line-height:15px;color:#1f1f24;transform:scaleY(1.1);transform-origin:0 12.70px;-webkit-text-stroke:0.06px currentColor">0.00</div>
<div class="a t" style="left:13.5px;top:193.44px;font-size:14.6px;line-height:14.6px;font-weight:bold;color:#1f1f24;transform:scaleY(1.1);transform-origin:0 12.36px;-webkit-text-stroke:0px currentColor">Discount</div>
<div class="a t" style="left:129.2px;width:110px;text-align:right;top:191.90px;font-size:15px;line-height:15px;color:#1f1f24;transform:scaleY(1.1);transform-origin:0 12.70px;-webkit-text-stroke:0.06px currentColor">2400.00</div>
<div class="a t" style="left:241.89999999999998px;width:110px;text-align:right;top:191.90px;font-size:15px;line-height:15px;color:#1f1f24;transform:scaleY(1.1);transform-origin:0 12.70px;-webkit-text-stroke:0.06px currentColor">0.00</div>
<div class="a t" style="left:354.4px;width:110px;text-align:right;top:191.90px;font-size:15px;line-height:15px;color:#1f1f24;transform:scaleY(1.1);transform-origin:0 12.70px;-webkit-text-stroke:0.06px currentColor">0.00</div>
<div class="a t" style="left:466.80000000000007px;width:110px;text-align:right;top:191.90px;font-size:15px;line-height:15px;color:#1f1f24;transform:scaleY(1.1);transform-origin:0 12.70px;-webkit-text-stroke:0.06px currentColor">0.00</div>
<div class="a t" style="left:580.4000000000001px;width:110px;text-align:right;top:191.90px;font-size:15px;line-height:15px;color:#1f1f24;transform:scaleY(1.1);transform-origin:0 12.70px;-webkit-text-stroke:0.06px currentColor">0.00</div>
<div class="a t" style="left:692.3000000000001px;width:110px;text-align:right;top:191.90px;font-size:15px;line-height:15px;color:#1f1f24;transform:scaleY(1.1);transform-origin:0 12.70px;-webkit-text-stroke:0.06px currentColor">2400.00</div>
<div class="a t" style="left:804.7px;width:110px;text-align:right;top:191.90px;font-size:15px;line-height:15px;color:#1f1f24;transform:scaleY(1.1);transform-origin:0 12.70px;-webkit-text-stroke:0.06px currentColor">0.00</div>
<div class="a t" style="left:916.4000000000001px;width:110px;text-align:right;top:191.90px;font-size:15px;line-height:15px;color:#1f1f24;transform:scaleY(1.1);transform-origin:0 12.70px;-webkit-text-stroke:0.06px currentColor">0.00</div>
<div class="a t" style="left:13.5px;top:220.94px;font-size:14.6px;line-height:14.6px;font-weight:bold;color:#1f1f24;transform:scaleY(1.1);transform-origin:0 12.36px;-webkit-text-stroke:0px currentColor">Dark Days Disc.</div>
<div class="a t" style="left:129.2px;width:110px;text-align:right;top:219.40px;font-size:15px;line-height:15px;color:#1f1f24;transform:scaleY(1.1);transform-origin:0 12.70px;-webkit-text-stroke:0.06px currentColor">0.00</div>
<div class="a t" style="left:241.89999999999998px;width:110px;text-align:right;top:219.40px;font-size:15px;line-height:15px;color:#1f1f24;transform:scaleY(1.1);transform-origin:0 12.70px;-webkit-text-stroke:0.06px currentColor">0.00</div>
<div class="a t" style="left:354.4px;width:110px;text-align:right;top:219.40px;font-size:15px;line-height:15px;color:#1f1f24;transform:scaleY(1.1);transform-origin:0 12.70px;-webkit-text-stroke:0.06px currentColor">0.00</div>
<div class="a t" style="left:466.80000000000007px;width:110px;text-align:right;top:219.40px;font-size:15px;line-height:15px;color:#1f1f24;transform:scaleY(1.1);transform-origin:0 12.70px;-webkit-text-stroke:0.06px currentColor">0.00</div>
<div class="a t" style="left:580.4000000000001px;width:110px;text-align:right;top:219.40px;font-size:15px;line-height:15px;color:#1f1f24;transform:scaleY(1.1);transform-origin:0 12.70px;-webkit-text-stroke:0.06px currentColor">0.00</div>
<div class="a t" style="left:692.3000000000001px;width:110px;text-align:right;top:219.40px;font-size:15px;line-height:15px;color:#1f1f24;transform:scaleY(1.1);transform-origin:0 12.70px;-webkit-text-stroke:0.06px currentColor">0.00</div>
<div class="a t" style="left:804.7px;width:110px;text-align:right;top:219.40px;font-size:15px;line-height:15px;color:#1f1f24;transform:scaleY(1.1);transform-origin:0 12.70px;-webkit-text-stroke:0.06px currentColor">0.00</div>
<div class="a t" style="left:916.4000000000001px;width:110px;text-align:right;top:219.40px;font-size:15px;line-height:15px;color:#1f1f24;transform:scaleY(1.1);transform-origin:0 12.70px;-webkit-text-stroke:0.06px currentColor">0.00</div>
<div class="a t" style="left:13.5px;top:248.44px;font-size:14.6px;line-height:14.6px;font-weight:bold;color:#1f1f24;transform:scaleY(1.1);transform-origin:0 12.36px;-webkit-text-stroke:0px currentColor">Total Disc.</div>
<div class="a t" style="left:129.2px;width:110px;text-align:right;top:248.80px;font-size:13px;line-height:13px;color:#1f1f24;transform:scaleY(1.1);transform-origin:0 11.00px;-webkit-text-stroke:0.06px currentColor">2400 (5%)</div>
<div class="a t" style="left:241.89999999999998px;width:110px;text-align:right;top:248.80px;font-size:13px;line-height:13px;color:#1f1f24;transform:scaleY(1.1);transform-origin:0 11.00px;-webkit-text-stroke:0.06px currentColor">0 (0%)</div>
<div class="a t" style="left:354.4px;width:110px;text-align:right;top:248.80px;font-size:13px;line-height:13px;color:#1f1f24;transform:scaleY(1.1);transform-origin:0 11.00px;-webkit-text-stroke:0.06px currentColor">0 (0%)</div>
<div class="a t" style="left:466.80000000000007px;width:110px;text-align:right;top:248.80px;font-size:13px;line-height:13px;color:#1f1f24;transform:scaleY(1.1);transform-origin:0 11.00px;-webkit-text-stroke:0.06px currentColor">0 (0%)</div>
<div class="a t" style="left:580.4000000000001px;width:110px;text-align:right;top:248.80px;font-size:13px;line-height:13px;color:#1f1f24;transform:scaleY(1.1);transform-origin:0 11.00px;-webkit-text-stroke:0.06px currentColor">0 (0%)</div>
<div class="a t" style="left:692.3000000000001px;width:110px;text-align:right;top:248.80px;font-size:13px;line-height:13px;color:#1f1f24;transform:scaleY(1.1);transform-origin:0 11.00px;-webkit-text-stroke:0.06px currentColor">2400 (5%)</div>
<div class="a t" style="left:804.7px;width:110px;text-align:right;top:248.80px;font-size:13px;line-height:13px;color:#1f1f24;transform:scaleY(1.1);transform-origin:0 11.00px;-webkit-text-stroke:0.06px currentColor">0 (0%)</div>
<div class="a t" style="left:916.4000000000001px;width:110px;text-align:right;top:248.80px;font-size:13px;line-height:13px;color:#1f1f24;transform:scaleY(1.1);transform-origin:0 11.00px;-webkit-text-stroke:0.06px currentColor">0 (0%)</div>
<div class="a t" style="left:13.5px;top:275.94px;font-size:14.6px;line-height:14.6px;font-weight:bold;color:#1f1f24;transform:scaleY(1.1);transform-origin:0 12.36px;-webkit-text-stroke:0px currentColor">MB Disc</div>
<div class="a t" style="left:129.2px;width:110px;text-align:right;top:276.30px;font-size:13px;line-height:13px;color:#1f1f24;transform:scaleY(1.1);transform-origin:0 11.00px;-webkit-text-stroke:0.06px currentColor">0.00</div>
<div class="a t" style="left:241.89999999999998px;width:110px;text-align:right;top:276.30px;font-size:13px;line-height:13px;color:#1f1f24;transform:scaleY(1.1);transform-origin:0 11.00px;-webkit-text-stroke:0.06px currentColor">0.00</div>
<div class="a t" style="left:354.4px;width:110px;text-align:right;top:276.30px;font-size:13px;line-height:13px;color:#1f1f24;transform:scaleY(1.1);transform-origin:0 11.00px;-webkit-text-stroke:0.06px currentColor">0.00</div>
<div class="a t" style="left:466.80000000000007px;width:110px;text-align:right;top:276.30px;font-size:13px;line-height:13px;color:#1f1f24;transform:scaleY(1.1);transform-origin:0 11.00px;-webkit-text-stroke:0.06px currentColor">0.00</div>
<div class="a t" style="left:580.4000000000001px;width:110px;text-align:right;top:276.30px;font-size:13px;line-height:13px;color:#1f1f24;transform:scaleY(1.1);transform-origin:0 11.00px;-webkit-text-stroke:0.06px currentColor">0.00</div>
<div class="a t" style="left:692.3000000000001px;width:110px;text-align:right;top:276.30px;font-size:13px;line-height:13px;color:#1f1f24;transform:scaleY(1.1);transform-origin:0 11.00px;-webkit-text-stroke:0.06px currentColor">0.00</div>
<div class="a t" style="left:804.7px;width:110px;text-align:right;top:276.30px;font-size:13px;line-height:13px;color:#1f1f24;transform:scaleY(1.1);transform-origin:0 11.00px;-webkit-text-stroke:0.06px currentColor">0.00</div>
<div class="a t" style="left:916.4000000000001px;width:110px;text-align:right;top:276.30px;font-size:13px;line-height:13px;color:#1f1f24;transform:scaleY(1.1);transform-origin:0 11.00px;-webkit-text-stroke:0.06px currentColor">0.00</div>
<div class="a t" style="left:13.5px;top:303.44px;font-size:14.6px;line-height:14.6px;font-weight:bold;color:#1f1f24;transform:scaleY(1.1);transform-origin:0 12.36px;-webkit-text-stroke:0px currentColor">Cost</div>
<div class="a t" style="left:129.2px;width:110px;text-align:right;top:301.90px;font-size:15px;line-height:15px;color:#1f1f24;transform:scaleY(1.1);transform-origin:0 12.70px;-webkit-text-stroke:0.06px currentColor">0.00</div>
<div class="a t" style="left:241.89999999999998px;width:110px;text-align:right;top:301.90px;font-size:15px;line-height:15px;color:#1f1f24;transform:scaleY(1.1);transform-origin:0 12.70px;-webkit-text-stroke:0.06px currentColor">0.00</div>
<div class="a t" style="left:354.4px;width:110px;text-align:right;top:301.90px;font-size:15px;line-height:15px;color:#1f1f24;transform:scaleY(1.1);transform-origin:0 12.70px;-webkit-text-stroke:0.06px currentColor">0.00</div>
<div class="a t" style="left:466.80000000000007px;width:110px;text-align:right;top:301.90px;font-size:15px;line-height:15px;color:#1f1f24;transform:scaleY(1.1);transform-origin:0 12.70px;-webkit-text-stroke:0.06px currentColor">0.00</div>
<div class="a t" style="left:580.4000000000001px;width:110px;text-align:right;top:301.90px;font-size:15px;line-height:15px;color:#1f1f24;transform:scaleY(1.1);transform-origin:0 12.70px;-webkit-text-stroke:0.06px currentColor">0.00</div>
<div class="a t" style="left:692.3000000000001px;width:110px;text-align:right;top:301.90px;font-size:15px;line-height:15px;color:#1f1f24;transform:scaleY(1.1);transform-origin:0 12.70px;-webkit-text-stroke:0.06px currentColor">0.00</div>
<div class="a t" style="left:804.7px;width:110px;text-align:right;top:301.90px;font-size:15px;line-height:15px;color:#1f1f24;transform:scaleY(1.1);transform-origin:0 12.70px;-webkit-text-stroke:0.06px currentColor">0.00</div>
<div class="a t" style="left:916.4000000000001px;width:110px;text-align:right;top:301.90px;font-size:15px;line-height:15px;color:#1f1f24;transform:scaleY(1.1);transform-origin:0 12.70px;-webkit-text-stroke:0.06px currentColor">0.00</div>
<div class="a t" style="left:13.5px;top:330.94px;font-size:14.6px;line-height:14.6px;font-weight:bold;color:#1f1f24;transform:scaleY(1.1);transform-origin:0 12.36px;-webkit-text-stroke:0px currentColor">Profit (Margin)</div>
<div class="a t" style="left:129.2px;width:110px;text-align:right;top:331.30px;font-size:13px;line-height:13px;color:#1f1f24;transform:scaleY(1.1);transform-origin:0 11.00px;-webkit-text-stroke:0.06px currentColor">47600 (100%)</div>
<div class="a t" style="left:241.89999999999998px;width:110px;text-align:right;top:331.30px;font-size:13px;line-height:13px;color:#1f1f24;transform:scaleY(1.1);transform-origin:0 11.00px;-webkit-text-stroke:0.06px currentColor">0 (0%)</div>
<div class="a t" style="left:354.4px;width:110px;text-align:right;top:331.30px;font-size:13px;line-height:13px;color:#1f1f24;transform:scaleY(1.1);transform-origin:0 11.00px;-webkit-text-stroke:0.06px currentColor">0 (0%)</div>
<div class="a t" style="left:466.80000000000007px;width:110px;text-align:right;top:331.30px;font-size:13px;line-height:13px;color:#1f1f24;transform:scaleY(1.1);transform-origin:0 11.00px;-webkit-text-stroke:0.06px currentColor">0 (0%)</div>
<div class="a t" style="left:580.4000000000001px;width:110px;text-align:right;top:331.30px;font-size:13px;line-height:13px;color:#1f1f24;transform:scaleY(1.1);transform-origin:0 11.00px;-webkit-text-stroke:0.06px currentColor">0 (0%)</div>
<div class="a t" style="left:692.3000000000001px;width:110px;text-align:right;top:331.30px;font-size:13px;line-height:13px;color:#1f1f24;transform:scaleY(1.1);transform-origin:0 11.00px;-webkit-text-stroke:0.06px currentColor">47600 (100%)</div>
<div class="a t" style="left:804.7px;width:110px;text-align:right;top:331.30px;font-size:13px;line-height:13px;color:#1f1f24;transform:scaleY(1.1);transform-origin:0 11.00px;-webkit-text-stroke:0.06px currentColor">0 (0%)</div>
<div class="a t" style="left:916.4000000000001px;width:110px;text-align:right;top:331.30px;font-size:13px;line-height:13px;color:#1f1f24;transform:scaleY(1.1);transform-origin:0 11.00px;-webkit-text-stroke:0.06px currentColor">0 (0%)</div>
<div class="a" style="left:1057.4px;top:99.3px;width:255.5px;height:25.4px;border:1.2px solid #cfcfcf;box-sizing:border-box;background:#fff"></div>
<div class="a t" style="left:1059.5px;width:250px;text-align:center;top:105.10px;font-size:15px;line-height:15px;color:#1f1f24;transform:scaleY(1.1);transform-origin:0 12.70px;-webkit-text-stroke:0.06px currentColor">Compare With Actual Price</div>
<div class="a" style="left:1053.9px;top:145px;width:261px;height:200.6px;border:1.2px solid #c4c4c4;box-sizing:border-box"></div>
<div class="a" style="left:1059px;top:138px;width:128px;height:12px;background:#fff"></div>
<div class="a t" style="left:1062.8px;top:138.00px;font-size:15px;line-height:15px;color:#1f1f24;transform:scaleY(1.1);transform-origin:0 12.70px;-webkit-text-stroke:0.06px currentColor">Profit With Burden</div>
<div class="a" style="left:1172.3px;top:162.9px;width:137.2px;height:25.3px;border:1.2px solid #cfcfcf;box-sizing:border-box;background:#f2f1f3"></div>
<div class="a t" style="left:1063.5px;top:167.40px;font-size:15px;line-height:15px;color:#1f1f24;transform:scaleY(1.1);transform-origin:0 12.70px;-webkit-text-stroke:0.06px currentColor">Charge</div>
<div class="a t" style="left:1163.5px;width:140px;text-align:right;top:167.90px;font-size:15px;line-height:15px;color:#1f1f24;transform:scaleY(1.1);transform-origin:0 12.70px;-webkit-text-stroke:0.06px currentColor">47600.00</div>
<div class="a" style="left:1172.3px;top:194.0px;width:137.2px;height:25.3px;border:1.2px solid #cfcfcf;box-sizing:border-box;background:#fff"></div>
<div class="a t" style="left:1063.5px;top:198.50px;font-size:15px;line-height:15px;color:#1f1f24;transform:scaleY(1.1);transform-origin:0 12.70px;-webkit-text-stroke:0.06px currentColor">Burden %</div>
<div class="a" style="left:1172.3px;top:225.10000000000002px;width:137.2px;height:25.3px;border:1.2px solid #cfcfcf;box-sizing:border-box;background:#f2f1f3"></div>
<div class="a t" style="left:1063.5px;top:229.60px;font-size:15px;line-height:15px;color:#1f1f24;transform:scaleY(1.1);transform-origin:0 12.70px;-webkit-text-stroke:0.06px currentColor">Burden</div>
<div class="a" style="left:1172.3px;top:256.20000000000005px;width:137.2px;height:25.3px;border:1.2px solid #cfcfcf;box-sizing:border-box;background:#f2f1f3"></div>
<div class="a t" style="left:1063.5px;top:260.70px;font-size:15px;line-height:15px;color:#1f1f24;transform:scaleY(1.1);transform-origin:0 12.70px;-webkit-text-stroke:0.06px currentColor">Est.Subrent</div>
<div class="a t" style="left:1163.5px;width:140px;text-align:right;top:261.20px;font-size:15px;line-height:15px;color:#1f1f24;transform:scaleY(1.1);transform-origin:0 12.70px;-webkit-text-stroke:0.06px currentColor">36000.00</div>
<div class="a" style="left:1172.3px;top:287.3px;width:137.2px;height:25.3px;border:1.2px solid #cfcfcf;box-sizing:border-box;background:#f2f1f3"></div>
<div class="a t" style="left:1063.5px;top:291.80px;font-size:15px;line-height:15px;color:#1f1f24;transform:scaleY(1.1);transform-origin:0 12.70px;-webkit-text-stroke:0.06px currentColor">Cost + Burden</div>
<div class="a" style="left:1172.3px;top:318.4px;width:137.2px;height:25.3px;border:1.2px solid #cfcfcf;box-sizing:border-box;background:#f2f1f3"></div>
<div class="a t" style="left:1063.5px;top:322.90px;font-size:15px;line-height:15px;color:#1f1f24;transform:scaleY(1.1);transform-origin:0 12.70px;-webkit-text-stroke:0.06px currentColor">Profit (Margin)</div>
<div class="a t" style="left:1166px;width:140px;text-align:right;top:322.65px;font-size:15.3px;line-height:15.3px;color:#1f1f24;transform:scaleY(1.1);transform-origin:0 12.95px;-webkit-text-stroke:0.06px currentColor">11600.00 (24.37%)</div>
<div class="a" style="left:1320px;top:259.3px;width:19.2px;height:19px;border:1.2px solid #c8c8c8;box-sizing:border-box;background:#fff"><svg width="19" height="19" style="position:absolute;left:-1.2px;top:-1.2px"><circle cx="9.4" cy="9.3" r="7.3" fill="none" stroke="#2f7fe0" stroke-width="1.6"/><path d="M9.9 8.2L8.9 13.2" stroke="#2f7fe0" stroke-width="1.7"/><circle cx="10.3" cy="5.9" r="1" fill="#2f7fe0"/></svg></div>
<div class="a" style="left:1357.5px;top:249.6px;width:28.6px;height:28.1px;background:#3cb34c;box-shadow:0 0 0 0.8px #b5c9b5"><svg width="29" height="28" style="position:absolute;left:0;top:0"><rect x="4.2" y="3.7" width="22.4" height="21.4" rx="2.2" fill="none" stroke="#fff" stroke-width="1.7"/><path d="M15.3 3.7V25.1M4.2 14.8H15.3" stroke="#fff" stroke-width="1.7"/><path d="M10.2 7.2V12.2M7.7 9.7H12.7M7.7 19.5H12.5M18 12.8H23.2M18 15.9H23.2" stroke="#fff" stroke-width="1.8"/></svg></div>
<div class="a" style="left:1397.9px;top:249.6px;width:28.6px;height:28.1px;background:#3cb34c;box-shadow:0 0 0 0.8px #b5c9b5"><svg width="29" height="28" style="position:absolute;left:0;top:0"><circle cx="14.4" cy="14.3" r="10.4" fill="none" stroke="#fff" stroke-width="1.6"/><path d="M10.3 15.4L13.8 18.4L19.5 10.7" fill="none" stroke="#fff" stroke-width="1.9"/></svg></div>
<div class="a" style="left:1438.4px;top:249.6px;width:28.6px;height:28.1px;background:#3cb34c;box-shadow:0 0 0 0.8px #b5c9b5"><svg width="29" height="28" style="position:absolute;left:0;top:0"><circle cx="14.3" cy="14.4" r="10.4" fill="none" stroke="#fff" stroke-width="1.6"/><path d="M10.3 10.4L18.3 18.4M18.3 10.4L10.3 18.4" stroke="#fff" stroke-width="1.7"/></svg></div>
<div class="a t" style="left:1323.8px;top:293.10px;font-size:15px;line-height:15px;color:#1f1f24;transform:scaleY(1.1);transform-origin:0 12.70px;-webkit-text-stroke:0.06px currentColor">Currency</div>
<div class="a" style="left:1323.5px;top:314.4px;width:111.5px;height:28.4px;border:1.2px solid #cfcfcf;border-radius:2px;box-sizing:border-box;background:#fff"></div>
<div class="a t" style="left:1326.3px;top:322.10px;font-size:15px;line-height:15px;color:#1f1f24;transform:scaleY(1.1);transform-origin:0 12.70px;-webkit-text-stroke:0.06px currentColor">Transaction</div>
<svg class="a" style="left:1418px;top:323px" width="14" height="10"><path d="M1.5 2L7 7.5L12.5 2" fill="none" stroke="#777" stroke-width="1.4"/></svg>
<div class="a" style="left:2px;top:352.6px;width:78.3px;height:37.2px;background:#42454f"></div>
<div class="a t" style="left:17.2px;top:366.28px;font-size:15.5px;line-height:15.5px;color:#eeeeee;transform:scaleY(1.1);transform-origin:0 13.12px;-webkit-text-stroke:0.06px currentColor">Item(s)</div>
<div class="a t" style="left:96px;top:366.28px;font-size:15.5px;line-height:15.5px;color:#1f1f24;transform:scaleY(1.1);transform-origin:0 13.12px;-webkit-text-stroke:0.06px currentColor">Labor</div>
<div class="a" style="left:2px;top:389.7px;width:78.5px;height:2.8px;background:#d8d8d8"></div>
<div class="a" style="left:2px;top:392.3px;width:1500px;height:2.2px;background:#bdbdbd"></div>
<div class="a t" style="left:46px;top:406.30px;font-size:15px;line-height:15px;color:#1f1f24;transform:scaleY(1.1);transform-origin:0 12.70px;-webkit-text-stroke:0.06px currentColor">Search :</div>
<div class="a t" style="left:139.5px;top:406.30px;font-size:15px;line-height:15px;color:#1f1f24;transform:scaleY(1.1);transform-origin:0 12.70px;-webkit-text-stroke:0.06px currentColor">Asset</div>
<div class="a" style="left:192.5px;top:400.6px;width:149px;height:29px;border:1.6px solid #8e8e8e;box-sizing:border-box;background:#fff"></div>
<div class="a" style="left:196px;top:405px;width:1.2px;height:20px;background:#333"></div>
<div class="a t" style="left:442px;top:406.30px;font-size:15px;line-height:15px;color:#1f1f24;transform:scaleY(1.1);transform-origin:0 12.70px;-webkit-text-stroke:0.06px currentColor">Product</div>
<div class="a" style="left:504.4px;top:400.2px;width:243px;height:29.4px;border:1.2px solid #cfcfcf;box-sizing:border-box;background:#fff"></div>
<div class="a t" style="left:770.5px;top:405.95px;font-size:14px;line-height:14px;color:#1f1f24;transform:scaleY(1.1);transform-origin:0 11.85px;-webkit-text-stroke:0.06px currentColor">Qty</div>
<div class="a" style="left:798px;top:400.2px;width:50px;height:29.4px;border:1.2px solid #cfcfcf;box-sizing:border-box;background:#fff"></div>
<div class="a t" style="left:801.5px;top:408.80px;font-size:15px;line-height:15px;color:#1f1f24;transform:scaleY(1.1);transform-origin:0 12.70px;-webkit-text-stroke:0.06px currentColor">1</div>
<div class="a" style="left:876px;top:406px;width:17px;height:17px;border:1.2px solid #b8b8b8;border-radius:3px;box-sizing:border-box;background:#fff"></div>
<div class="a t" style="left:895px;top:409.05px;font-size:15.3px;line-height:15.3px;color:#1f1f24;transform:scaleY(1.1);transform-origin:0 12.95px;-webkit-text-stroke:0.06px currentColor">Update existing lines</div>
<div class="a" style="left:2px;top:434.8px;width:1500px;height:1.2px;background:#acacac"></div>
<div class="a" style="left:2px;top:436px;width:1500px;height:2.3px;background:#dedede"></div>
<div class="a" style="left:2px;top:436px;width:3.3px;height:449px;background:#e3e3e3"></div>
<div class="a" style="left:5.5px;top:440.5px;width:1492.5px;height:31px;background:#2e3139"></div>
<div class="a" style="left:6.3px;top:441.4px;width:16.4px;height:29.2px;background:#42454f;border:1px solid #555963;box-sizing:border-box"></div>
<div class="a t" style="left:6.5px;width:16.0px;text-align:center;top:449.10px;font-size:15px;line-height:15px;color:#ececec;white-space:nowrap;overflow:hidden;transform:scaleY(1.1);transform-origin:0 12.70px;-webkit-text-stroke:0.06px currentColor">T</div>
<div class="a" style="left:24.3px;top:441.4px;width:17.4px;height:29.2px;background:#42454f;border:1px solid #555963;box-sizing:border-box"></div>
<div class="a t" style="left:24.5px;width:17.0px;text-align:center;top:449.10px;font-size:15px;line-height:15px;color:#ececec;white-space:nowrap;overflow:hidden;transform:scaleY(1.1);transform-origin:0 12.70px;-webkit-text-stroke:0.06px currentColor">C</div>
<div class="a" style="left:43.3px;top:441.4px;width:17.299999999999997px;height:29.2px;background:#42454f;border:1px solid #555963;box-sizing:border-box"></div>
<div class="a t" style="left:43.5px;width:16.9px;text-align:center;top:449.10px;font-size:15px;line-height:15px;color:#ececec;white-space:nowrap;overflow:hidden;transform:scaleY(1.1);transform-origin:0 12.70px;-webkit-text-stroke:0.06px currentColor">X</div>
<div class="a" style="left:62.199999999999996px;top:441.4px;width:17.400000000000006px;height:29.2px;background:#42454f;border:1px solid #555963;box-sizing:border-box"></div>
<div class="a t" style="left:62.400000000000006px;width:17.000000000000007px;text-align:center;top:449.10px;font-size:15px;line-height:15px;color:#ececec;white-space:nowrap;overflow:hidden;transform:scaleY(1.1);transform-origin:0 12.70px;-webkit-text-stroke:0.06px currentColor">S</div>
<div class="a" style="left:81.2px;top:441.4px;width:22.699999999999996px;height:29.2px;background:#42454f;border:1px solid #555963;box-sizing:border-box"></div>
<div class="a t" style="left:81.4px;width:22.299999999999997px;text-align:center;top:449.10px;font-size:15px;line-height:15px;color:#ececec;white-space:nowrap;overflow:hidden;transform:scaleY(1.1);transform-origin:0 12.70px;-webkit-text-stroke:0.06px currentColor">I.C</div>
<div class="a" style="left:105.5px;top:441.4px;width:23.399999999999984px;height:29.2px;background:#42454f;border:1px solid #555963;box-sizing:border-box"></div>
<div class="a t" style="left:105.69999999999999px;width:22.999999999999986px;text-align:center;top:449.10px;font-size:15px;line-height:15px;color:#ececec;white-space:nowrap;overflow:hidden;transform:scaleY(1.1);transform-origin:0 12.70px;-webkit-text-stroke:0.06px currentColor">I....</div>
<div class="a" style="left:130.5px;top:441.4px;width:23.300000000000004px;height:29.2px;background:#42454f;border:1px solid #555963;box-sizing:border-box"></div>
<div class="a t" style="left:130.7px;width:22.900000000000006px;text-align:center;top:449.10px;font-size:15px;line-height:15px;color:#ececec;white-space:nowrap;overflow:hidden;transform:scaleY(1.1);transform-origin:0 12.70px;-webkit-text-stroke:0.06px currentColor">I.I</div>
<div class="a" style="left:155.4px;top:441.4px;width:92.20000000000002px;height:29.2px;background:#42454f;border:1px solid #555963;box-sizing:border-box"></div>
<div class="a t" style="left:155.6px;width:91.80000000000001px;text-align:center;top:449.10px;font-size:15px;line-height:15px;color:#ececec;white-space:nowrap;overflow:hidden;transform:scaleY(1.1);transform-origin:0 12.70px;-webkit-text-stroke:0.06px currentColor">Status</div>
<div class="a" style="left:249.20000000000002px;top:441.4px;width:23.999999999999993px;height:29.2px;background:#42454f;border:1px solid #555963;box-sizing:border-box"></div>
<div class="a t" style="left:249.39999999999998px;width:23.599999999999994px;text-align:center;top:449.10px;font-size:15px;line-height:15px;color:#ececec;white-space:nowrap;overflow:hidden;transform:scaleY(1.1);transform-origin:0 12.70px;-webkit-text-stroke:0.06px currentColor">L</div>
<div class="a" style="left:274.8px;top:441.4px;width:54.9px;height:29.2px;background:#42454f;border:1px solid #555963;box-sizing:border-box"></div>
<div class="a t" style="left:275.0px;width:54.5px;text-align:center;top:449.10px;font-size:15px;line-height:15px;color:#ececec;white-space:nowrap;overflow:hidden;transform:scaleY(1.1);transform-origin:0 12.70px;-webkit-text-stroke:0.06px currentColor">Action</div>
<div class="a" style="left:331.3px;top:441.4px;width:122.9px;height:29.2px;background:#42454f;border:1px solid #555963;box-sizing:border-box"></div>
<div class="a t" style="left:331.5px;width:122.5px;text-align:center;top:449.10px;font-size:15px;line-height:15px;color:#ececec;white-space:nowrap;overflow:hidden;transform:scaleY(1.1);transform-origin:0 12.70px;-webkit-text-stroke:0.06px currentColor">Product ID</div>
<div class="a" style="left:455.8px;top:441.4px;width:323.4px;height:29.2px;background:#42454f;border:1px solid #555963;box-sizing:border-box"></div>
<div class="a t" style="left:456.0px;width:323px;text-align:center;top:449.10px;font-size:15px;line-height:15px;color:#ececec;white-space:nowrap;overflow:hidden;transform:scaleY(1.1);transform-origin:0 12.70px;-webkit-text-stroke:0.06px currentColor">Description</div>
<div class="a" style="left:780.8px;top:441.4px;width:67.4px;height:29.2px;background:#42454f;border:1px solid #555963;box-sizing:border-box"></div>
<div class="a t" style="left:781.0px;width:67px;text-align:center;top:449.10px;font-size:15px;line-height:15px;color:#ececec;white-space:nowrap;overflow:hidden;transform:scaleY(1.1);transform-origin:0 12.70px;-webkit-text-stroke:0.06px currentColor">Duration</div>
<div class="a" style="left:849.8px;top:441.4px;width:35.600000000000044px;height:29.2px;background:#42454f;border:1px solid #555963;box-sizing:border-box"></div>
<div class="a t" style="left:850.0px;width:35.200000000000045px;text-align:center;top:449.10px;font-size:15px;line-height:15px;color:#ececec;white-space:nowrap;overflow:hidden;transform:scaleY(1.1);transform-origin:0 12.70px;-webkit-text-stroke:0.06px currentColor">DIW</div>
<div class="a" style="left:887.0px;top:441.4px;width:61.69999999999995px;height:29.2px;background:#42454f;border:1px solid #555963;box-sizing:border-box"></div>
<div class="a t" style="left:887.2px;width:61.299999999999955px;text-align:center;top:449.10px;font-size:15px;line-height:15px;color:#ececec;white-space:nowrap;overflow:hidden;transform:scaleY(1.1);transform-origin:0 12.70px;-webkit-text-stroke:0.06px currentColor">DIM</div>
<div class="a" style="left:950.3px;top:441.4px;width:34.9px;height:29.2px;background:#42454f;border:1px solid #555963;box-sizing:border-box"></div>
<div class="a t" style="left:950.5px;width:34.5px;text-align:center;top:449.10px;font-size:15px;line-height:15px;color:#ececec;white-space:nowrap;overflow:hidden;transform:scaleY(1.1);transform-origin:0 12.70px;-webkit-text-stroke:0.06px currentColor">Qty</div>
<div class="a" style="left:986.8px;top:441.4px;width:48.9px;height:29.2px;background:#42454f;border:1px solid #555963;box-sizing:border-box"></div>
<div class="a t" style="left:987.0px;width:48.5px;text-align:center;top:449.10px;font-size:15px;line-height:15px;color:#ececec;white-space:nowrap;overflow:hidden;transform:scaleY(1.1);transform-origin:0 12.70px;-webkit-text-stroke:0.06px currentColor">Unit</div>
<div class="a" style="left:1037.3px;top:441.4px;width:72.9px;height:29.2px;background:#42454f;border:1px solid #555963;box-sizing:border-box"></div>
<div class="a t" style="left:1037.5px;width:72.5px;text-align:center;top:449.10px;font-size:15px;line-height:15px;color:#ececec;white-space:nowrap;overflow:hidden;transform:scaleY(1.1);transform-origin:0 12.70px;-webkit-text-stroke:0.06px currentColor">Site Price</div>
<div class="a" style="left:1111.8px;top:441.4px;width:74.10000000000005px;height:29.2px;background:#42454f;border:1px solid #555963;box-sizing:border-box"></div>
<div class="a t" style="left:1112.0px;width:73.70000000000005px;text-align:center;top:449.10px;font-size:15px;line-height:15px;color:#ececec;white-space:nowrap;overflow:hidden;transform:scaleY(1.1);transform-origin:0 12.70px;-webkit-text-stroke:0.06px currentColor">Unit Price</div>
<div class="a" style="left:1187.5px;top:441.4px;width:67.29999999999987px;height:29.2px;background:#42454f;border:1px solid #555963;box-sizing:border-box"></div>
<div class="a t" style="left:1187.7000000000003px;width:66.89999999999986px;text-align:center;top:449.10px;font-size:15px;line-height:15px;color:#ececec;white-space:nowrap;overflow:hidden;transform:scaleY(1.1);transform-origin:0 12.70px;-webkit-text-stroke:0.06px currentColor">Discount</div>
<div class="a" style="left:1256.3999999999999px;top:441.4px;width:73.00000000000014px;height:29.2px;background:#42454f;border:1px solid #555963;box-sizing:border-box"></div>
<div class="a t" style="left:1256.6px;width:72.60000000000014px;text-align:center;top:449.10px;font-size:15px;line-height:15px;color:#ececec;white-space:nowrap;overflow:hidden;transform:scaleY(1.1);transform-origin:0 12.70px;-webkit-text-stroke:0.06px currentColor">Net Each</div>
<div class="a" style="left:1331.0px;top:441.4px;width:72.99999999999991px;height:29.2px;background:#42454f;border:1px solid #555963;box-sizing:border-box"></div>
<div class="a t" style="left:1331.2px;width:72.59999999999991px;text-align:center;top:449.10px;font-size:15px;line-height:15px;color:#ececec;white-space:nowrap;overflow:hidden;transform:scaleY(1.1);transform-origin:0 12.70px;-webkit-text-stroke:0.06px currentColor">Net Disc</div>
<div class="a" style="left:1405.6px;top:441.4px;width:91.60000000000005px;height:29.2px;background:#42454f;border:1px solid #555963;box-sizing:border-box"></div>
<div class="a t" style="left:1405.8000000000002px;width:91.20000000000005px;text-align:center;top:449.10px;font-size:15px;line-height:15px;color:#ececec;white-space:nowrap;overflow:hidden;transform:scaleY(1.1);transform-origin:0 12.70px;-webkit-text-stroke:0.06px currentColor">Amount</div>
<div class="a" style="left:1498px;top:440.5px;width:4px;height:31px;background:#3a3d45"></div>
<div class="a" style="left:23.0px;top:471.5px;width:1px;height:261.8px;background:#ececec"></div>
<div class="a" style="left:42.0px;top:471.5px;width:1px;height:261.8px;background:#ececec"></div>
<div class="a" style="left:60.9px;top:471.5px;width:1px;height:261.8px;background:#ececec"></div>
<div class="a" style="left:79.9px;top:471.5px;width:1px;height:261.8px;background:#ececec"></div>
<div class="a" style="left:104.2px;top:471.5px;width:1px;height:261.8px;background:#ececec"></div>
<div class="a" style="left:129.2px;top:471.5px;width:1px;height:261.8px;background:#ececec"></div>
<div class="a" style="left:154.1px;top:471.5px;width:1px;height:261.8px;background:#ececec"></div>
<div class="a" style="left:247.9px;top:471.5px;width:1px;height:261.8px;background:#ececec"></div>
<div class="a" style="left:273.5px;top:471.5px;width:1px;height:261.8px;background:#ececec"></div>
<div class="a" style="left:330.0px;top:471.5px;width:1px;height:261.8px;background:#ececec"></div>
<div class="a" style="left:454.5px;top:471.5px;width:1px;height:261.8px;background:#ececec"></div>
<div class="a" style="left:779.5px;top:471.5px;width:1px;height:261.8px;background:#ececec"></div>
<div class="a" style="left:848.5px;top:471.5px;width:1px;height:261.8px;background:#ececec"></div>
<div class="a" style="left:885.7px;top:471.5px;width:1px;height:261.8px;background:#ececec"></div>
<div class="a" style="left:949.0px;top:471.5px;width:1px;height:261.8px;background:#ececec"></div>
<div class="a" style="left:985.5px;top:471.5px;width:1px;height:261.8px;background:#ececec"></div>
<div class="a" style="left:1036.0px;top:471.5px;width:1px;height:261.8px;background:#ececec"></div>
<div class="a" style="left:1110.5px;top:471.5px;width:1px;height:261.8px;background:#ececec"></div>
<div class="a" style="left:1186.2px;top:471.5px;width:1px;height:261.8px;background:#ececec"></div>
<div class="a" style="left:1255.1px;top:471.5px;width:1px;height:261.8px;background:#ececec"></div>
<div class="a" style="left:1329.7px;top:471.5px;width:1px;height:261.8px;background:#ececec"></div>
<div class="a" style="left:1404.3px;top:471.5px;width:1px;height:261.8px;background:#ececec"></div>
<div class="a" style="left:5.5px;top:494.5px;width:1492.5px;height:1px;background:#ebebeb"></div>
<div class="a" style="left:7.2px;top:475.2px;width:17px;height:17px;border:1.4px solid #5a5a5a;border-right:none;border-radius:3px 0 0 3px;box-sizing:border-box;background:#fff;clip-path:inset(0 0 0 0)"><svg width="17" height="17" style="position:absolute;left:-1.4px;top:-1.4px"><path d="M3.6 8.8L6.6 12.6L13.6 3.2" fill="none" stroke="#4a4a4a" stroke-width="2.3"/></svg></div>
<div class="a" style="left:26.3px;top:475.3px;width:16.6px;height:16.7px;border:1.3px solid #b9b9b9;border-radius:3px;box-sizing:border-box;background:#fff"></div>
<div class="a" style="left:45.1px;top:475.3px;width:16.6px;height:16.7px;border:1.3px solid #b9b9b9;border-radius:3px;box-sizing:border-box;background:#fff"></div>
<div class="a" style="left:63.3px;top:475.3px;width:16.6px;height:16.7px;border:1.3px solid #b9b9b9;border-radius:3px;box-sizing:border-box;background:#fff"></div>
<div class="a" style="left:84.9px;top:475.3px;width:16.6px;height:16.7px;border:1.3px solid #b9b9b9;border-radius:3px;box-sizing:border-box;background:#fff"></div>
<div class="a" style="left:109.9px;top:475.3px;width:16.6px;height:16.7px;border:1.3px solid #b9b9b9;border-radius:3px;box-sizing:border-box;background:#fff"></div>
<div class="a" style="left:134.8px;top:475.3px;width:16.6px;height:16.7px;border:1.3px solid #b9b9b9;border-radius:3px;box-sizing:border-box;background:#fff"></div>
<div class="a" style="left:253.8px;top:475.3px;width:16.7px;height:16.7px;border:1.3px solid #b9b9b9;border-radius:3px;box-sizing:border-box;background:#fff"></div>
<div class="a t" style="left:159.6px;top:476.40px;font-size:15px;line-height:15px;color:#ff0a1e;white-space:nowrap;transform:scaleY(1.1);transform-origin:0 12.70px;-webkit-text-stroke:0.06px currentColor">Not Availa...</div>
<div class="a t" style="left:278.3px;top:476.40px;font-size:15px;line-height:15px;color:#ff0a1e;white-space:nowrap;transform:scaleY(1.1);transform-origin:0 12.70px;-webkit-text-stroke:0.06px currentColor">Rent</div>
<div class="a t" style="left:335px;top:476.40px;font-size:15px;line-height:15px;color:#ff0a1e;white-space:nowrap;transform:scaleY(1.1);transform-origin:0 12.70px;-webkit-text-stroke:0.06px currentColor">SK1508039271</div>
<div class="a t" style="left:462.9px;top:476.40px;font-size:15px;line-height:15px;color:#ff0a1e;white-space:nowrap;transform:scaleY(1.1);transform-origin:0 12.70px;-webkit-text-stroke:0.06px currentColor">AWP Lift Equipment</div>
<div class="a t" style="left:785.7px;top:476.40px;font-size:15px;line-height:15px;color:#ff0a1e;white-space:nowrap;transform:scaleY(1.1);transform-origin:0 12.70px;-webkit-text-stroke:0.06px currentColor">1d</div>
<div class="a t" style="left:821.2px;width:60px;text-align:right;top:476.40px;font-size:15px;line-height:15px;color:#ff0a1e;white-space:nowrap;transform:scaleY(1.1);transform-origin:0 12.70px;-webkit-text-stroke:0.06px currentColor">7....</div>
<div class="a t" style="left:883.8px;width:60px;text-align:right;top:476.40px;font-size:15px;line-height:15px;color:#ff0a1e;white-space:nowrap;transform:scaleY(1.1);transform-origin:0 12.70px;-webkit-text-stroke:0.06px currentColor">28.00</div>
<div class="a t" style="left:951px;width:30px;text-align:right;top:476.40px;font-size:15px;line-height:15px;color:#ff0a1e;white-space:nowrap;transform:scaleY(1.1);transform-origin:0 12.70px;-webkit-text-stroke:0.06px currentColor">2</div>
<div class="a t" style="left:991px;top:476.40px;font-size:15px;line-height:15px;color:#ff0a1e;white-space:nowrap;transform:scaleY(1.1);transform-origin:0 12.70px;-webkit-text-stroke:0.06px currentColor">Day</div>
<div class="a t" style="left:1026px;width:80px;text-align:right;top:476.40px;font-size:15px;line-height:15px;color:#ff0a1e;white-space:nowrap;transform:scaleY(1.1);transform-origin:0 12.70px;-webkit-text-stroke:0.06px currentColor">3000.00</div>
<div class="a t" style="left:1101px;width:80px;text-align:right;top:476.40px;font-size:15px;line-height:15px;color:#ff0a1e;white-space:nowrap;transform:scaleY(1.1);transform-origin:0 12.70px;-webkit-text-stroke:0.06px currentColor">3000.00</div>
<div class="a t" style="left:1170.1px;width:80px;text-align:right;top:476.40px;font-size:15px;line-height:15px;color:#ff0a1e;white-space:nowrap;transform:scaleY(1.1);transform-origin:0 12.70px;-webkit-text-stroke:0.06px currentColor">5.00</div>
<div class="a t" style="left:1244.5px;width:80px;text-align:right;top:476.40px;font-size:15px;line-height:15px;color:#ff0a1e;white-space:nowrap;transform:scaleY(1.1);transform-origin:0 12.70px;-webkit-text-stroke:0.06px currentColor">2850.00</div>
<div class="a t" style="left:1319.8px;width:80px;text-align:right;top:476.40px;font-size:15px;line-height:15px;color:#ff0a1e;white-space:nowrap;transform:scaleY(1.1);transform-origin:0 12.70px;-webkit-text-stroke:0.06px currentColor">5.00</div>
<div class="a t" style="left:1413.6px;width:80px;text-align:right;top:476.40px;font-size:15px;line-height:15px;color:#ff0a1e;white-space:nowrap;transform:scaleY(1.1);transform-origin:0 12.70px;-webkit-text-stroke:0.06px currentColor">5700.00</div>
<div class="a" style="left:5.5px;top:518.3000000000001px;width:1492.5px;height:1px;background:#ebebeb"></div>
<div class="a" style="left:7.2px;top:499.0px;width:17px;height:17px;border:1.4px solid #5a5a5a;border-right:none;border-radius:3px 0 0 3px;box-sizing:border-box;background:#fff;clip-path:inset(0 0 0 0)"><svg width="17" height="17" style="position:absolute;left:-1.4px;top:-1.4px"><path d="M3.6 8.8L6.6 12.6L13.6 3.2" fill="none" stroke="#4a4a4a" stroke-width="2.3"/></svg></div>
<div class="a" style="left:26.3px;top:499.1px;width:16.6px;height:16.7px;border:1.3px solid #b9b9b9;border-radius:3px;box-sizing:border-box;background:#fff"></div>
<div class="a" style="left:45.1px;top:499.1px;width:16.6px;height:16.7px;border:1.3px solid #b9b9b9;border-radius:3px;box-sizing:border-box;background:#fff"></div>
<div class="a" style="left:63.3px;top:499.1px;width:16.6px;height:16.7px;border:1.3px solid #b9b9b9;border-radius:3px;box-sizing:border-box;background:#fff"></div>
<div class="a" style="left:84.9px;top:499.1px;width:16.6px;height:16.7px;border:1.3px solid #b9b9b9;border-radius:3px;box-sizing:border-box;background:#fff"></div>
<div class="a" style="left:109.9px;top:499.1px;width:16.6px;height:16.7px;border:1.3px solid #b9b9b9;border-radius:3px;box-sizing:border-box;background:#fff"></div>
<div class="a" style="left:134.8px;top:499.1px;width:16.6px;height:16.7px;border:1.3px solid #b9b9b9;border-radius:3px;box-sizing:border-box;background:#fff"></div>
<div class="a" style="left:253.8px;top:499.1px;width:16.7px;height:16.7px;border:1.3px solid #b9b9b9;border-radius:3px;box-sizing:border-box;background:#fff"></div>
<div class="a t" style="left:159.6px;top:500.20px;font-size:15px;line-height:15px;color:#ff0a1e;white-space:nowrap;transform:scaleY(1.1);transform-origin:0 12.70px;-webkit-text-stroke:0.06px currentColor">Not Availa...</div>
<div class="a t" style="left:278.3px;top:500.20px;font-size:15px;line-height:15px;color:#ff0a1e;white-space:nowrap;transform:scaleY(1.1);transform-origin:0 12.70px;-webkit-text-stroke:0.06px currentColor">Rent</div>
<div class="a t" style="left:335px;top:500.20px;font-size:15px;line-height:15px;color:#ff0a1e;white-space:nowrap;transform:scaleY(1.1);transform-origin:0 12.70px;-webkit-text-stroke:0.06px currentColor">SK1508039370</div>
<div class="a t" style="left:462.6px;top:500.46px;font-size:14.7px;line-height:14.7px;color:#ff0a1e;white-space:nowrap;font-weight:bold;transform:scaleY(1.1);transform-origin:0 12.44px;-webkit-text-stroke:0px currentColor">- Machinery Equipments</div>
<div class="a t" style="left:785.7px;top:500.20px;font-size:15px;line-height:15px;color:#ff0a1e;white-space:nowrap;transform:scaleY(1.1);transform-origin:0 12.70px;-webkit-text-stroke:0.06px currentColor">1d</div>
<div class="a t" style="left:821.2px;width:60px;text-align:right;top:500.20px;font-size:15px;line-height:15px;color:#ff0a1e;white-space:nowrap;transform:scaleY(1.1);transform-origin:0 12.70px;-webkit-text-stroke:0.06px currentColor">7....</div>
<div class="a t" style="left:883.8px;width:60px;text-align:right;top:500.20px;font-size:15px;line-height:15px;color:#ff0a1e;white-space:nowrap;transform:scaleY(1.1);transform-origin:0 12.70px;-webkit-text-stroke:0.06px currentColor">28.00</div>
<div class="a t" style="left:951px;width:30px;text-align:right;top:500.20px;font-size:15px;line-height:15px;color:#ff0a1e;white-space:nowrap;transform:scaleY(1.1);transform-origin:0 12.70px;-webkit-text-stroke:0.06px currentColor">3</div>
<div class="a t" style="left:991px;top:500.20px;font-size:15px;line-height:15px;color:#ff0a1e;white-space:nowrap;transform:scaleY(1.1);transform-origin:0 12.70px;-webkit-text-stroke:0.06px currentColor">Day</div>
<div class="a t" style="left:1026px;width:80px;text-align:right;top:500.20px;font-size:15px;line-height:15px;color:#ff0a1e;white-space:nowrap;transform:scaleY(1.1);transform-origin:0 12.70px;-webkit-text-stroke:0.06px currentColor">5000.00</div>
<div class="a t" style="left:1101px;width:80px;text-align:right;top:500.20px;font-size:15px;line-height:15px;color:#ff0a1e;white-space:nowrap;transform:scaleY(1.1);transform-origin:0 12.70px;-webkit-text-stroke:0.06px currentColor">5000.00</div>
<div class="a t" style="left:1170.1px;width:80px;text-align:right;top:500.20px;font-size:15px;line-height:15px;color:#ff0a1e;white-space:nowrap;transform:scaleY(1.1);transform-origin:0 12.70px;-webkit-text-stroke:0.06px currentColor">5.00</div>
<div class="a t" style="left:1244.5px;width:80px;text-align:right;top:500.20px;font-size:15px;line-height:15px;color:#ff0a1e;white-space:nowrap;transform:scaleY(1.1);transform-origin:0 12.70px;-webkit-text-stroke:0.06px currentColor">4750.00</div>
<div class="a t" style="left:1319.8px;width:80px;text-align:right;top:500.20px;font-size:15px;line-height:15px;color:#ff0a1e;white-space:nowrap;transform:scaleY(1.1);transform-origin:0 12.70px;-webkit-text-stroke:0.06px currentColor">5.00</div>
<div class="a t" style="left:1413.6px;width:80px;text-align:right;top:500.20px;font-size:15px;line-height:15px;color:#ff0a1e;white-space:nowrap;transform:scaleY(1.1);transform-origin:0 12.70px;-webkit-text-stroke:0.06px currentColor">14250.00</div>
<div class="a" style="left:5.5px;top:542.1px;width:1492.5px;height:1px;background:#ebebeb"></div>
<div class="a" style="left:7.2px;top:522.8000000000001px;width:17px;height:17px;border:1.4px solid #5a5a5a;border-right:none;border-radius:3px 0 0 3px;box-sizing:border-box;background:#fff;clip-path:inset(0 0 0 0)"><svg width="17" height="17" style="position:absolute;left:-1.4px;top:-1.4px"><path d="M3.6 8.8L6.6 12.6L13.6 3.2" fill="none" stroke="#4a4a4a" stroke-width="2.3"/></svg></div>
<div class="a" style="left:26.3px;top:522.9px;width:16.6px;height:16.7px;border:1.3px solid #b9b9b9;border-radius:3px;box-sizing:border-box;background:#fff"></div>
<div class="a" style="left:45.1px;top:522.9px;width:16.6px;height:16.7px;border:1.3px solid #b9b9b9;border-radius:3px;box-sizing:border-box;background:#fff"></div>
<div class="a" style="left:63.3px;top:522.9px;width:16.6px;height:16.7px;border:1.3px solid #b9b9b9;border-radius:3px;box-sizing:border-box;background:#fff"></div>
<div class="a" style="left:84.9px;top:522.9px;width:16.6px;height:16.7px;border:1.3px solid #b9b9b9;border-radius:3px;box-sizing:border-box;background:#fff"></div>
<div class="a" style="left:109.9px;top:522.9px;width:16.6px;height:16.7px;border:1.3px solid #b9b9b9;border-radius:3px;box-sizing:border-box;background:#fff"></div>
<div class="a" style="left:134.8px;top:522.9px;width:16.6px;height:16.7px;border:1.3px solid #b9b9b9;border-radius:3px;box-sizing:border-box;background:#fff"></div>
<div class="a" style="left:253.8px;top:522.9px;width:16.7px;height:16.7px;border:1.3px solid #b9b9b9;border-radius:3px;box-sizing:border-box;background:#fff"></div>
<div class="a t" style="left:278.3px;top:524.00px;font-size:15px;line-height:15px;color:#1f1f24;white-space:nowrap;transform:scaleY(1.1);transform-origin:0 12.70px;-webkit-text-stroke:0.06px currentColor">Rent</div>
<div class="a t" style="left:335px;top:524.00px;font-size:15px;line-height:15px;color:#1f1f24;white-space:nowrap;transform:scaleY(1.1);transform-origin:0 12.70px;-webkit-text-stroke:0.06px currentColor">SK1508039265</div>
<div class="a t" style="left:482.3px;top:523.75px;font-size:15.3px;line-height:15.3px;color:#1f1f24;white-space:nowrap;font-style:italic;transform:scaleY(1.1);transform-origin:0 12.95px;-webkit-text-stroke:0.06px currentColor">Articulating Boom Lifts</div>
<div class="a t" style="left:785.7px;top:524.00px;font-size:15px;line-height:15px;color:#1f1f24;white-space:nowrap;transform:scaleY(1.1);transform-origin:0 12.70px;-webkit-text-stroke:0.06px currentColor">1d</div>
<div class="a t" style="left:951px;width:30px;text-align:right;top:524.00px;font-size:15px;line-height:15px;color:#1f1f24;white-space:nowrap;transform:scaleY(1.1);transform-origin:0 12.70px;-webkit-text-stroke:0.06px currentColor">3</div>
<div class="a t" style="left:1244.5px;width:80px;text-align:right;top:524.00px;font-size:15px;line-height:15px;color:#1f1f24;white-space:nowrap;transform:scaleY(1.1);transform-origin:0 12.70px;-webkit-text-stroke:0.06px currentColor">0.00</div>
<div class="a t" style="left:1319.8px;width:80px;text-align:right;top:524.00px;font-size:15px;line-height:15px;color:#1f1f24;white-space:nowrap;transform:scaleY(1.1);transform-origin:0 12.70px;-webkit-text-stroke:0.06px currentColor">0.00</div>
<div class="a" style="left:5.5px;top:565.9px;width:1492.5px;height:1px;background:#ebebeb"></div>
<div class="a" style="left:7.2px;top:546.6px;width:17px;height:17px;border:1.4px solid #5a5a5a;border-right:none;border-radius:3px 0 0 3px;box-sizing:border-box;background:#fff;clip-path:inset(0 0 0 0)"><svg width="17" height="17" style="position:absolute;left:-1.4px;top:-1.4px"><path d="M3.6 8.8L6.6 12.6L13.6 3.2" fill="none" stroke="#4a4a4a" stroke-width="2.3"/></svg></div>
<div class="a" style="left:26.3px;top:546.6999999999999px;width:16.6px;height:16.7px;border:1.3px solid #b9b9b9;border-radius:3px;box-sizing:border-box;background:#fff"></div>
<div class="a" style="left:45.1px;top:546.6999999999999px;width:16.6px;height:16.7px;border:1.3px solid #b9b9b9;border-radius:3px;box-sizing:border-box;background:#fff"></div>
<div class="a" style="left:63.3px;top:546.6999999999999px;width:16.6px;height:16.7px;border:1.3px solid #b9b9b9;border-radius:3px;box-sizing:border-box;background:#fff"></div>
<div class="a" style="left:84.9px;top:546.6999999999999px;width:16.6px;height:16.7px;border:1.3px solid #b9b9b9;border-radius:3px;box-sizing:border-box;background:#fff"></div>
<div class="a" style="left:109.9px;top:546.6999999999999px;width:16.6px;height:16.7px;border:1.3px solid #b9b9b9;border-radius:3px;box-sizing:border-box;background:#fff"></div>
<div class="a" style="left:134.8px;top:546.6999999999999px;width:16.6px;height:16.7px;border:1.3px solid #b9b9b9;border-radius:3px;box-sizing:border-box;background:#fff"></div>
<div class="a" style="left:253.8px;top:546.6999999999999px;width:16.7px;height:16.7px;border:1.3px solid #b9b9b9;border-radius:3px;box-sizing:border-box;background:#fff"></div>
<div class="a t" style="left:278.3px;top:547.80px;font-size:15px;line-height:15px;color:#1f1f24;white-space:nowrap;transform:scaleY(1.1);transform-origin:0 12.70px;-webkit-text-stroke:0.06px currentColor">Rent</div>
<div class="a t" style="left:335px;top:547.80px;font-size:15px;line-height:15px;color:#1f1f24;white-space:nowrap;transform:scaleY(1.1);transform-origin:0 12.70px;-webkit-text-stroke:0.06px currentColor">SL1508039262</div>
<div class="a t" style="left:482.3px;top:547.55px;font-size:15.3px;line-height:15.3px;color:#1f1f24;white-space:nowrap;font-style:italic;transform:scaleY(1.1);transform-origin:0 12.95px;-webkit-text-stroke:0.06px currentColor">Scissor Lifts</div>
<div class="a t" style="left:785.7px;top:547.80px;font-size:15px;line-height:15px;color:#1f1f24;white-space:nowrap;transform:scaleY(1.1);transform-origin:0 12.70px;-webkit-text-stroke:0.06px currentColor">1d</div>
<div class="a t" style="left:951px;width:30px;text-align:right;top:547.80px;font-size:15px;line-height:15px;color:#1f1f24;white-space:nowrap;transform:scaleY(1.1);transform-origin:0 12.70px;-webkit-text-stroke:0.06px currentColor">3</div>
<div class="a t" style="left:1244.5px;width:80px;text-align:right;top:547.80px;font-size:15px;line-height:15px;color:#1f1f24;white-space:nowrap;transform:scaleY(1.1);transform-origin:0 12.70px;-webkit-text-stroke:0.06px currentColor">0.00</div>
<div class="a t" style="left:1319.8px;width:80px;text-align:right;top:547.80px;font-size:15px;line-height:15px;color:#1f1f24;white-space:nowrap;transform:scaleY(1.1);transform-origin:0 12.70px;-webkit-text-stroke:0.06px currentColor">0.00</div>
<div class="a" style="left:5.5px;top:589.7px;width:1492.5px;height:1px;background:#ebebeb"></div>
<div class="a" style="left:7.2px;top:570.4000000000001px;width:17px;height:17px;border:1.4px solid #5a5a5a;border-right:none;border-radius:3px 0 0 3px;box-sizing:border-box;background:#fff;clip-path:inset(0 0 0 0)"><svg width="17" height="17" style="position:absolute;left:-1.4px;top:-1.4px"><path d="M3.6 8.8L6.6 12.6L13.6 3.2" fill="none" stroke="#4a4a4a" stroke-width="2.3"/></svg></div>
<div class="a" style="left:26.3px;top:570.5px;width:16.6px;height:16.7px;border:1.3px solid #b9b9b9;border-radius:3px;box-sizing:border-box;background:#fff"></div>
<div class="a" style="left:45.1px;top:570.5px;width:16.6px;height:16.7px;border:1.3px solid #b9b9b9;border-radius:3px;box-sizing:border-box;background:#fff"></div>
<div class="a" style="left:63.3px;top:570.5px;width:16.6px;height:16.7px;border:1.3px solid #b9b9b9;border-radius:3px;box-sizing:border-box;background:#fff"></div>
<div class="a" style="left:84.9px;top:570.5px;width:16.6px;height:16.7px;border:1.3px solid #b9b9b9;border-radius:3px;box-sizing:border-box;background:#fff"></div>
<div class="a" style="left:109.9px;top:570.5px;width:16.6px;height:16.7px;border:1.3px solid #b9b9b9;border-radius:3px;box-sizing:border-box;background:#fff"></div>
<div class="a" style="left:134.8px;top:570.5px;width:16.6px;height:16.7px;border:1.3px solid #b9b9b9;border-radius:3px;box-sizing:border-box;background:#fff"></div>
<div class="a" style="left:253.8px;top:570.5px;width:16.7px;height:16.7px;border:1.3px solid #b9b9b9;border-radius:3px;box-sizing:border-box;background:#fff"></div>
<div class="a t" style="left:278.3px;top:571.60px;font-size:15px;line-height:15px;color:#1f1f24;white-space:nowrap;transform:scaleY(1.1);transform-origin:0 12.70px;-webkit-text-stroke:0.06px currentColor">Rent</div>
<div class="a t" style="left:335px;top:571.60px;font-size:15px;line-height:15px;color:#1f1f24;white-space:nowrap;transform:scaleY(1.1);transform-origin:0 12.70px;-webkit-text-stroke:0.06px currentColor">SK1508039268</div>
<div class="a t" style="left:482.3px;top:571.35px;font-size:15.3px;line-height:15.3px;color:#1f1f24;white-space:nowrap;font-style:italic;transform:scaleY(1.1);transform-origin:0 12.95px;-webkit-text-stroke:0.06px currentColor">Telescopic Boom Lifts</div>
<div class="a t" style="left:785.7px;top:571.60px;font-size:15px;line-height:15px;color:#1f1f24;white-space:nowrap;transform:scaleY(1.1);transform-origin:0 12.70px;-webkit-text-stroke:0.06px currentColor">1d</div>
<div class="a t" style="left:951px;width:30px;text-align:right;top:571.60px;font-size:15px;line-height:15px;color:#1f1f24;white-space:nowrap;transform:scaleY(1.1);transform-origin:0 12.70px;-webkit-text-stroke:0.06px currentColor">3</div>
<div class="a t" style="left:1244.5px;width:80px;text-align:right;top:571.60px;font-size:15px;line-height:15px;color:#1f1f24;white-space:nowrap;transform:scaleY(1.1);transform-origin:0 12.70px;-webkit-text-stroke:0.06px currentColor">0.00</div>
<div class="a t" style="left:1319.8px;width:80px;text-align:right;top:571.60px;font-size:15px;line-height:15px;color:#1f1f24;white-space:nowrap;transform:scaleY(1.1);transform-origin:0 12.70px;-webkit-text-stroke:0.06px currentColor">0.00</div>
<div class="a" style="left:5.5px;top:613.5px;width:1492.5px;height:1px;background:#ebebeb"></div>
<div class="a" style="left:7.2px;top:594.2px;width:17px;height:17px;border:1.4px solid #5a5a5a;border-right:none;border-radius:3px 0 0 3px;box-sizing:border-box;background:#fff;clip-path:inset(0 0 0 0)"><svg width="17" height="17" style="position:absolute;left:-1.4px;top:-1.4px"><path d="M3.6 8.8L6.6 12.6L13.6 3.2" fill="none" stroke="#4a4a4a" stroke-width="2.3"/></svg></div>
<div class="a" style="left:26.3px;top:594.3px;width:16.6px;height:16.7px;border:1.3px solid #b9b9b9;border-radius:3px;box-sizing:border-box;background:#fff"></div>
<div class="a" style="left:45.1px;top:594.3px;width:16.6px;height:16.7px;border:1.3px solid #b9b9b9;border-radius:3px;box-sizing:border-box;background:#fff"></div>
<div class="a" style="left:63.3px;top:594.3px;width:16.6px;height:16.7px;border:1.3px solid #b9b9b9;border-radius:3px;box-sizing:border-box;background:#fff"></div>
<div class="a" style="left:84.9px;top:594.3px;width:16.6px;height:16.7px;border:1.3px solid #b9b9b9;border-radius:3px;box-sizing:border-box;background:#fff"></div>
<div class="a" style="left:109.9px;top:594.3px;width:16.6px;height:16.7px;border:1.3px solid #b9b9b9;border-radius:3px;box-sizing:border-box;background:#fff"></div>
<div class="a" style="left:134.8px;top:594.3px;width:16.6px;height:16.7px;border:1.3px solid #b9b9b9;border-radius:3px;box-sizing:border-box;background:#fff"></div>
<div class="a" style="left:253.8px;top:594.3px;width:16.7px;height:16.7px;border:1.3px solid #b9b9b9;border-radius:3px;box-sizing:border-box;background:#fff"></div>
<div class="a t" style="left:159.6px;top:595.40px;font-size:15px;line-height:15px;color:#ff0a1e;white-space:nowrap;transform:scaleY(1.1);transform-origin:0 12.70px;-webkit-text-stroke:0.06px currentColor">Not Availa...</div>
<div class="a t" style="left:278.3px;top:595.40px;font-size:15px;line-height:15px;color:#ff0a1e;white-space:nowrap;transform:scaleY(1.1);transform-origin:0 12.70px;-webkit-text-stroke:0.06px currentColor">Rent</div>
<div class="a t" style="left:335px;top:595.40px;font-size:15px;line-height:15px;color:#ff0a1e;white-space:nowrap;transform:scaleY(1.1);transform-origin:0 12.70px;-webkit-text-stroke:0.06px currentColor">SK1508039376</div>
<div class="a t" style="left:462.6px;top:595.66px;font-size:14.7px;line-height:14.7px;color:#ff0a1e;white-space:nowrap;font-weight:bold;transform:scaleY(1.1);transform-origin:0 12.44px;-webkit-text-stroke:0px currentColor">- Machinery Mixed Equipments</div>
<div class="a t" style="left:785.7px;top:595.40px;font-size:15px;line-height:15px;color:#ff0a1e;white-space:nowrap;transform:scaleY(1.1);transform-origin:0 12.70px;-webkit-text-stroke:0.06px currentColor">1d</div>
<div class="a t" style="left:821.2px;width:60px;text-align:right;top:595.40px;font-size:15px;line-height:15px;color:#ff0a1e;white-space:nowrap;transform:scaleY(1.1);transform-origin:0 12.70px;-webkit-text-stroke:0.06px currentColor">7....</div>
<div class="a t" style="left:883.8px;width:60px;text-align:right;top:595.40px;font-size:15px;line-height:15px;color:#ff0a1e;white-space:nowrap;transform:scaleY(1.1);transform-origin:0 12.70px;-webkit-text-stroke:0.06px currentColor">28.00</div>
<div class="a t" style="left:951px;width:30px;text-align:right;top:595.40px;font-size:15px;line-height:15px;color:#ff0a1e;white-space:nowrap;transform:scaleY(1.1);transform-origin:0 12.70px;-webkit-text-stroke:0.06px currentColor">2</div>
<div class="a t" style="left:991px;top:595.40px;font-size:15px;line-height:15px;color:#ff0a1e;white-space:nowrap;transform:scaleY(1.1);transform-origin:0 12.70px;-webkit-text-stroke:0.06px currentColor">Day</div>
<div class="a t" style="left:1026px;width:80px;text-align:right;top:595.40px;font-size:15px;line-height:15px;color:#ff0a1e;white-space:nowrap;transform:scaleY(1.1);transform-origin:0 12.70px;-webkit-text-stroke:0.06px currentColor">5000.00</div>
<div class="a t" style="left:1101px;width:80px;text-align:right;top:595.40px;font-size:15px;line-height:15px;color:#ff0a1e;white-space:nowrap;transform:scaleY(1.1);transform-origin:0 12.70px;-webkit-text-stroke:0.06px currentColor">5000.00</div>
<div class="a t" style="left:1170.1px;width:80px;text-align:right;top:595.40px;font-size:15px;line-height:15px;color:#ff0a1e;white-space:nowrap;transform:scaleY(1.1);transform-origin:0 12.70px;-webkit-text-stroke:0.06px currentColor">8.00</div>
<div class="a t" style="left:1244.5px;width:80px;text-align:right;top:595.40px;font-size:15px;line-height:15px;color:#ff0a1e;white-space:nowrap;transform:scaleY(1.1);transform-origin:0 12.70px;-webkit-text-stroke:0.06px currentColor">4600.00</div>
<div class="a t" style="left:1319.8px;width:80px;text-align:right;top:595.40px;font-size:15px;line-height:15px;color:#ff0a1e;white-space:nowrap;transform:scaleY(1.1);transform-origin:0 12.70px;-webkit-text-stroke:0.06px currentColor">8.00</div>
<div class="a t" style="left:1413.6px;width:80px;text-align:right;top:595.40px;font-size:15px;line-height:15px;color:#ff0a1e;white-space:nowrap;transform:scaleY(1.1);transform-origin:0 12.70px;-webkit-text-stroke:0.06px currentColor">9200.00</div>
<div class="a" style="left:5.5px;top:637.3px;width:1492.5px;height:1px;background:#ebebeb"></div>
<div class="a" style="left:7.2px;top:618.0px;width:17px;height:17px;border:1.4px solid #5a5a5a;border-right:none;border-radius:3px 0 0 3px;box-sizing:border-box;background:#fff;clip-path:inset(0 0 0 0)"><svg width="17" height="17" style="position:absolute;left:-1.4px;top:-1.4px"><path d="M3.6 8.8L6.6 12.6L13.6 3.2" fill="none" stroke="#4a4a4a" stroke-width="2.3"/></svg></div>
<div class="a" style="left:26.3px;top:618.0999999999999px;width:16.6px;height:16.7px;border:1.3px solid #b9b9b9;border-radius:3px;box-sizing:border-box;background:#fff"></div>
<div class="a" style="left:45.1px;top:618.0999999999999px;width:16.6px;height:16.7px;border:1.3px solid #b9b9b9;border-radius:3px;box-sizing:border-box;background:#fff"></div>
<div class="a" style="left:63.3px;top:618.0999999999999px;width:16.6px;height:16.7px;border:1.3px solid #b9b9b9;border-radius:3px;box-sizing:border-box;background:#fff"></div>
<div class="a" style="left:84.9px;top:618.0999999999999px;width:16.6px;height:16.7px;border:1.3px solid #b9b9b9;border-radius:3px;box-sizing:border-box;background:#fff"></div>
<div class="a" style="left:109.9px;top:618.0999999999999px;width:16.6px;height:16.7px;border:1.3px solid #b9b9b9;border-radius:3px;box-sizing:border-box;background:#fff"></div>
<div class="a" style="left:134.8px;top:618.0999999999999px;width:16.6px;height:16.7px;border:1.3px solid #b9b9b9;border-radius:3px;box-sizing:border-box;background:#fff"></div>
<div class="a" style="left:253.8px;top:618.0999999999999px;width:16.7px;height:16.7px;border:1.3px solid #b9b9b9;border-radius:3px;box-sizing:border-box;background:#fff"></div>
<div class="a t" style="left:159.6px;top:619.20px;font-size:15px;line-height:15px;color:#ff0a1e;white-space:nowrap;transform:scaleY(1.1);transform-origin:0 12.70px;-webkit-text-stroke:0.06px currentColor">Not Availa...</div>
<div class="a t" style="left:278.3px;top:619.20px;font-size:15px;line-height:15px;color:#ff0a1e;white-space:nowrap;transform:scaleY(1.1);transform-origin:0 12.70px;-webkit-text-stroke:0.06px currentColor">Rent</div>
<div class="a t" style="left:335px;top:619.20px;font-size:15px;line-height:15px;color:#ff0a1e;white-space:nowrap;transform:scaleY(1.1);transform-origin:0 12.70px;-webkit-text-stroke:0.06px currentColor">SK1508039358</div>
<div class="a t" style="left:482.3px;top:618.95px;font-size:15.3px;line-height:15.3px;color:#ff0a1e;white-space:nowrap;font-style:italic;transform:scaleY(1.1);transform-origin:0 12.95px;-webkit-text-stroke:0.06px currentColor">Control Boards</div>
<div class="a t" style="left:785.7px;top:619.20px;font-size:15px;line-height:15px;color:#ff0a1e;white-space:nowrap;transform:scaleY(1.1);transform-origin:0 12.70px;-webkit-text-stroke:0.06px currentColor">1d</div>
<div class="a t" style="left:951px;width:30px;text-align:right;top:619.20px;font-size:15px;line-height:15px;color:#ff0a1e;white-space:nowrap;transform:scaleY(1.1);transform-origin:0 12.70px;-webkit-text-stroke:0.06px currentColor">2</div>
<div class="a t" style="left:1244.5px;width:80px;text-align:right;top:619.20px;font-size:15px;line-height:15px;color:#ff0a1e;white-space:nowrap;transform:scaleY(1.1);transform-origin:0 12.70px;-webkit-text-stroke:0.06px currentColor">0.00</div>
<div class="a t" style="left:1319.8px;width:80px;text-align:right;top:619.20px;font-size:15px;line-height:15px;color:#ff0a1e;white-space:nowrap;transform:scaleY(1.1);transform-origin:0 12.70px;-webkit-text-stroke:0.06px currentColor">0.00</div>
<div class="a" style="left:5.5px;top:661.1px;width:1492.5px;height:1px;background:#ebebeb"></div>
<div class="a" style="left:7.2px;top:641.8000000000001px;width:17px;height:17px;border:1.4px solid #5a5a5a;border-right:none;border-radius:3px 0 0 3px;box-sizing:border-box;background:#fff;clip-path:inset(0 0 0 0)"><svg width="17" height="17" style="position:absolute;left:-1.4px;top:-1.4px"><path d="M3.6 8.8L6.6 12.6L13.6 3.2" fill="none" stroke="#4a4a4a" stroke-width="2.3"/></svg></div>
<div class="a" style="left:26.3px;top:641.9px;width:16.6px;height:16.7px;border:1.3px solid #b9b9b9;border-radius:3px;box-sizing:border-box;background:#fff"></div>
<div class="a" style="left:45.1px;top:641.9px;width:16.6px;height:16.7px;border:1.3px solid #b9b9b9;border-radius:3px;box-sizing:border-box;background:#fff"></div>
<div class="a" style="left:63.3px;top:641.9px;width:16.6px;height:16.7px;border:1.3px solid #b9b9b9;border-radius:3px;box-sizing:border-box;background:#fff"></div>
<div class="a" style="left:84.9px;top:641.9px;width:16.6px;height:16.7px;border:1.3px solid #b9b9b9;border-radius:3px;box-sizing:border-box;background:#fff"></div>
<div class="a" style="left:109.9px;top:641.9px;width:16.6px;height:16.7px;border:1.3px solid #b9b9b9;border-radius:3px;box-sizing:border-box;background:#fff"></div>
<div class="a" style="left:134.8px;top:641.9px;width:16.6px;height:16.7px;border:1.3px solid #b9b9b9;border-radius:3px;box-sizing:border-box;background:#fff"></div>
<div class="a" style="left:253.8px;top:641.9px;width:16.7px;height:16.7px;border:1.3px solid #b9b9b9;border-radius:3px;box-sizing:border-box;background:#fff"></div>
<div class="a t" style="left:159.6px;top:643.00px;font-size:15px;line-height:15px;color:#ff0a1e;white-space:nowrap;transform:scaleY(1.1);transform-origin:0 12.70px;-webkit-text-stroke:0.06px currentColor">Not Availa...</div>
<div class="a t" style="left:278.3px;top:643.00px;font-size:15px;line-height:15px;color:#ff0a1e;white-space:nowrap;transform:scaleY(1.1);transform-origin:0 12.70px;-webkit-text-stroke:0.06px currentColor">Rent</div>
<div class="a t" style="left:335px;top:643.00px;font-size:15px;line-height:15px;color:#ff0a1e;white-space:nowrap;transform:scaleY(1.1);transform-origin:0 12.70px;-webkit-text-stroke:0.06px currentColor">SK1508039367</div>
<div class="a t" style="left:482.3px;top:642.75px;font-size:15.3px;line-height:15.3px;color:#ff0a1e;white-space:nowrap;font-style:italic;transform:scaleY(1.1);transform-origin:0 12.95px;-webkit-text-stroke:0.06px currentColor">Electric forklifts</div>
<div class="a t" style="left:785.7px;top:643.00px;font-size:15px;line-height:15px;color:#ff0a1e;white-space:nowrap;transform:scaleY(1.1);transform-origin:0 12.70px;-webkit-text-stroke:0.06px currentColor">1d</div>
<div class="a t" style="left:951px;width:30px;text-align:right;top:643.00px;font-size:15px;line-height:15px;color:#ff0a1e;white-space:nowrap;transform:scaleY(1.1);transform-origin:0 12.70px;-webkit-text-stroke:0.06px currentColor">2</div>
<div class="a t" style="left:1244.5px;width:80px;text-align:right;top:643.00px;font-size:15px;line-height:15px;color:#ff0a1e;white-space:nowrap;transform:scaleY(1.1);transform-origin:0 12.70px;-webkit-text-stroke:0.06px currentColor">0.00</div>
<div class="a t" style="left:1319.8px;width:80px;text-align:right;top:643.00px;font-size:15px;line-height:15px;color:#ff0a1e;white-space:nowrap;transform:scaleY(1.1);transform-origin:0 12.70px;-webkit-text-stroke:0.06px currentColor">0.00</div>
<div class="a" style="left:5.5px;top:684.9px;width:1492.5px;height:1px;background:#ebebeb"></div>
<div class="a" style="left:7.2px;top:665.6px;width:17px;height:17px;border:1.4px solid #5a5a5a;border-right:none;border-radius:3px 0 0 3px;box-sizing:border-box;background:#fff;clip-path:inset(0 0 0 0)"><svg width="17" height="17" style="position:absolute;left:-1.4px;top:-1.4px"><path d="M3.6 8.8L6.6 12.6L13.6 3.2" fill="none" stroke="#4a4a4a" stroke-width="2.3"/></svg></div>
<div class="a" style="left:26.3px;top:665.6999999999999px;width:16.6px;height:16.7px;border:1.3px solid #b9b9b9;border-radius:3px;box-sizing:border-box;background:#fff"></div>
<div class="a" style="left:45.1px;top:665.6999999999999px;width:16.6px;height:16.7px;border:1.3px solid #b9b9b9;border-radius:3px;box-sizing:border-box;background:#fff"></div>
<div class="a" style="left:63.3px;top:665.6999999999999px;width:16.6px;height:16.7px;border:1.3px solid #b9b9b9;border-radius:3px;box-sizing:border-box;background:#fff"></div>
<div class="a" style="left:84.9px;top:665.6999999999999px;width:16.6px;height:16.7px;border:1.3px solid #b9b9b9;border-radius:3px;box-sizing:border-box;background:#fff"></div>
<div class="a" style="left:109.9px;top:665.6999999999999px;width:16.6px;height:16.7px;border:1.3px solid #b9b9b9;border-radius:3px;box-sizing:border-box;background:#fff"></div>
<div class="a" style="left:134.8px;top:665.6999999999999px;width:16.6px;height:16.7px;border:1.3px solid #b9b9b9;border-radius:3px;box-sizing:border-box;background:#fff"></div>
<div class="a" style="left:253.8px;top:665.6999999999999px;width:16.7px;height:16.7px;border:1.3px solid #b9b9b9;border-radius:3px;box-sizing:border-box;background:#fff"></div>
<div class="a t" style="left:159.6px;top:666.80px;font-size:15px;line-height:15px;color:#ff0a1e;white-space:nowrap;transform:scaleY(1.1);transform-origin:0 12.70px;-webkit-text-stroke:0.06px currentColor">Not Availa...</div>
<div class="a t" style="left:278.3px;top:666.80px;font-size:15px;line-height:15px;color:#ff0a1e;white-space:nowrap;transform:scaleY(1.1);transform-origin:0 12.70px;-webkit-text-stroke:0.06px currentColor">Rent</div>
<div class="a t" style="left:335px;top:666.80px;font-size:15px;line-height:15px;color:#ff0a1e;white-space:nowrap;transform:scaleY(1.1);transform-origin:0 12.70px;-webkit-text-stroke:0.06px currentColor">SK1508039361</div>
<div class="a t" style="left:482.3px;top:666.55px;font-size:15.3px;line-height:15.3px;color:#ff0a1e;white-space:nowrap;font-style:italic;transform:scaleY(1.1);transform-origin:0 12.95px;-webkit-text-stroke:0.06px currentColor">Truck mounted Boom Lift</div>
<div class="a t" style="left:785.7px;top:666.80px;font-size:15px;line-height:15px;color:#ff0a1e;white-space:nowrap;transform:scaleY(1.1);transform-origin:0 12.70px;-webkit-text-stroke:0.06px currentColor">1d</div>
<div class="a t" style="left:951px;width:30px;text-align:right;top:666.80px;font-size:15px;line-height:15px;color:#ff0a1e;white-space:nowrap;transform:scaleY(1.1);transform-origin:0 12.70px;-webkit-text-stroke:0.06px currentColor">2</div>
<div class="a t" style="left:1244.5px;width:80px;text-align:right;top:666.80px;font-size:15px;line-height:15px;color:#ff0a1e;white-space:nowrap;transform:scaleY(1.1);transform-origin:0 12.70px;-webkit-text-stroke:0.06px currentColor">0.00</div>
<div class="a t" style="left:1319.8px;width:80px;text-align:right;top:666.80px;font-size:15px;line-height:15px;color:#ff0a1e;white-space:nowrap;transform:scaleY(1.1);transform-origin:0 12.70px;-webkit-text-stroke:0.06px currentColor">0.00</div>
<div class="a" style="left:5.5px;top:708.7px;width:1492.5px;height:1px;background:#ebebeb"></div>
<div class="a" style="left:7.2px;top:689.4000000000001px;width:17px;height:17px;border:1.4px solid #5a5a5a;border-right:none;border-radius:3px 0 0 3px;box-sizing:border-box;background:#fff;clip-path:inset(0 0 0 0)"><svg width="17" height="17" style="position:absolute;left:-1.4px;top:-1.4px"><path d="M3.6 8.8L6.6 12.6L13.6 3.2" fill="none" stroke="#4a4a4a" stroke-width="2.3"/></svg></div>
<div class="a" style="left:26.3px;top:689.5px;width:16.6px;height:16.7px;border:1.3px solid #b9b9b9;border-radius:3px;box-sizing:border-box;background:#fff"></div>
<div class="a" style="left:45.1px;top:689.5px;width:16.6px;height:16.7px;border:1.3px solid #b9b9b9;border-radius:3px;box-sizing:border-box;background:#fff"></div>
<div class="a" style="left:63.3px;top:689.5px;width:16.6px;height:16.7px;border:1.3px solid #b9b9b9;border-radius:3px;box-sizing:border-box;background:#fff"></div>
<div class="a" style="left:84.9px;top:689.5px;width:16.6px;height:16.7px;border:1.3px solid #b9b9b9;border-radius:3px;box-sizing:border-box;background:#fff"></div>
<div class="a" style="left:109.9px;top:689.5px;width:16.6px;height:16.7px;border:1.3px solid #b9b9b9;border-radius:3px;box-sizing:border-box;background:#fff"></div>
<div class="a" style="left:134.8px;top:689.5px;width:16.6px;height:16.7px;border:1.3px solid #b9b9b9;border-radius:3px;box-sizing:border-box;background:#fff"></div>
<div class="a" style="left:253.8px;top:689.5px;width:16.7px;height:16.7px;border:1.3px solid #b9b9b9;border-radius:3px;box-sizing:border-box;background:#fff"></div>
<div class="a t" style="left:159.6px;top:690.60px;font-size:15px;line-height:15px;color:#1f1f24;white-space:nowrap;transform:scaleY(1.1);transform-origin:0 12.70px;-webkit-text-stroke:0.06px currentColor">Reserved</div>
<div class="a t" style="left:278.3px;top:690.60px;font-size:15px;line-height:15px;color:#1f1f24;white-space:nowrap;transform:scaleY(1.1);transform-origin:0 12.70px;-webkit-text-stroke:0.06px currentColor">Rent</div>
<div class="a t" style="left:335px;top:690.60px;font-size:15px;line-height:15px;color:#1f1f24;white-space:nowrap;transform:scaleY(1.1);transform-origin:0 12.70px;-webkit-text-stroke:0.06px currentColor">SK013449</div>
<div class="a t" style="left:462.9px;top:690.60px;font-size:15px;line-height:15px;color:#1f1f24;white-space:nowrap;transform:scaleY(1.1);transform-origin:0 12.70px;-webkit-text-stroke:0.06px currentColor">Motorized Personnel Lift (24)</div>
<div class="a t" style="left:785.7px;top:690.60px;font-size:15px;line-height:15px;color:#1f1f24;white-space:nowrap;transform:scaleY(1.1);transform-origin:0 12.70px;-webkit-text-stroke:0.06px currentColor">1d</div>
<div class="a t" style="left:821.2px;width:60px;text-align:right;top:690.60px;font-size:15px;line-height:15px;color:#1f1f24;white-space:nowrap;transform:scaleY(1.1);transform-origin:0 12.70px;-webkit-text-stroke:0.06px currentColor">7....</div>
<div class="a t" style="left:883.8px;width:60px;text-align:right;top:690.60px;font-size:15px;line-height:15px;color:#1f1f24;white-space:nowrap;transform:scaleY(1.1);transform-origin:0 12.70px;-webkit-text-stroke:0.06px currentColor">28.00</div>
<div class="a t" style="left:951px;width:30px;text-align:right;top:690.60px;font-size:15px;line-height:15px;color:#1f1f24;white-space:nowrap;transform:scaleY(1.1);transform-origin:0 12.70px;-webkit-text-stroke:0.06px currentColor">3</div>
<div class="a t" style="left:991px;top:690.60px;font-size:15px;line-height:15px;color:#1f1f24;white-space:nowrap;transform:scaleY(1.1);transform-origin:0 12.70px;-webkit-text-stroke:0.06px currentColor">Day</div>
<div class="a t" style="left:1026px;width:80px;text-align:right;top:690.60px;font-size:15px;line-height:15px;color:#1f1f24;white-space:nowrap;transform:scaleY(1.1);transform-origin:0 12.70px;-webkit-text-stroke:0.06px currentColor">5000.00</div>
<div class="a t" style="left:1101px;width:80px;text-align:right;top:690.60px;font-size:15px;line-height:15px;color:#1f1f24;white-space:nowrap;transform:scaleY(1.1);transform-origin:0 12.70px;-webkit-text-stroke:0.06px currentColor">5000.00</div>
<div class="a t" style="left:1170.1px;width:80px;text-align:right;top:690.60px;font-size:15px;line-height:15px;color:#1f1f24;white-space:nowrap;transform:scaleY(1.1);transform-origin:0 12.70px;-webkit-text-stroke:0.06px currentColor">1.00</div>
<div class="a t" style="left:1244.5px;width:80px;text-align:right;top:690.60px;font-size:15px;line-height:15px;color:#1f1f24;white-space:nowrap;transform:scaleY(1.1);transform-origin:0 12.70px;-webkit-text-stroke:0.06px currentColor">4950.00</div>
<div class="a t" style="left:1319.8px;width:80px;text-align:right;top:690.60px;font-size:15px;line-height:15px;color:#1f1f24;white-space:nowrap;transform:scaleY(1.1);transform-origin:0 12.70px;-webkit-text-stroke:0.06px currentColor">1.00</div>
<div class="a t" style="left:1413.6px;width:80px;text-align:right;top:690.60px;font-size:15px;line-height:15px;color:#1f1f24;white-space:nowrap;transform:scaleY(1.1);transform-origin:0 12.70px;-webkit-text-stroke:0.06px currentColor">14850.00</div>
<div class="a" style="left:5.5px;top:732.5px;width:1492.5px;height:1px;background:#ebebeb"></div>
<div class="a" style="left:7.2px;top:713.2px;width:17px;height:17px;border:1.4px solid #5a5a5a;border-right:none;border-radius:3px 0 0 3px;box-sizing:border-box;background:#fff;clip-path:inset(0 0 0 0)"><svg width="17" height="17" style="position:absolute;left:-1.4px;top:-1.4px"><path d="M3.6 8.8L6.6 12.6L13.6 3.2" fill="none" stroke="#4a4a4a" stroke-width="2.3"/></svg></div>
<div class="a" style="left:26.3px;top:713.3px;width:16.6px;height:16.7px;border:1.3px solid #b9b9b9;border-radius:3px;box-sizing:border-box;background:#fff"></div>
<div class="a" style="left:45.1px;top:713.3px;width:16.6px;height:16.7px;border:1.3px solid #b9b9b9;border-radius:3px;box-sizing:border-box;background:#fff"></div>
<div class="a" style="left:63.3px;top:713.3px;width:16.6px;height:16.7px;border:1.3px solid #b9b9b9;border-radius:3px;box-sizing:border-box;background:#fff"></div>
<div class="a" style="left:84.9px;top:713.3px;width:16.6px;height:16.7px;border:1.3px solid #b9b9b9;border-radius:3px;box-sizing:border-box;background:#fff"></div>
<div class="a" style="left:109.9px;top:713.3px;width:16.6px;height:16.7px;border:1.3px solid #b9b9b9;border-radius:3px;box-sizing:border-box;background:#fff"></div>
<div class="a" style="left:134.8px;top:713.3px;width:16.6px;height:16.7px;border:1.3px solid #b9b9b9;border-radius:3px;box-sizing:border-box;background:#fff"></div>
<div class="a" style="left:253.8px;top:713.3px;width:16.7px;height:16.7px;border:1.3px solid #b9b9b9;border-radius:3px;box-sizing:border-box;background:#fff"></div>
<div class="a t" style="left:159.6px;top:714.40px;font-size:15px;line-height:15px;color:#ff0a1e;white-space:nowrap;transform:scaleY(1.1);transform-origin:0 12.70px;-webkit-text-stroke:0.06px currentColor">Not Availa...</div>
<div class="a t" style="left:278.3px;top:714.40px;font-size:15px;line-height:15px;color:#ff0a1e;white-space:nowrap;transform:scaleY(1.1);transform-origin:0 12.70px;-webkit-text-stroke:0.06px currentColor">Rent</div>
<div class="a t" style="left:335px;top:714.40px;font-size:15px;line-height:15px;color:#ff0a1e;white-space:nowrap;transform:scaleY(1.1);transform-origin:0 12.70px;-webkit-text-stroke:0.06px currentColor">SL1508039262</div>
<div class="a t" style="left:462.9px;top:714.40px;font-size:15px;line-height:15px;color:#ff0a1e;white-space:nowrap;transform:scaleY(1.1);transform-origin:0 12.70px;-webkit-text-stroke:0.06px currentColor">Scissor Lifts</div>
<div class="a t" style="left:785.7px;top:714.40px;font-size:15px;line-height:15px;color:#ff0a1e;white-space:nowrap;transform:scaleY(1.1);transform-origin:0 12.70px;-webkit-text-stroke:0.06px currentColor">1d</div>
<div class="a t" style="left:821.2px;width:60px;text-align:right;top:714.40px;font-size:15px;line-height:15px;color:#ff0a1e;white-space:nowrap;transform:scaleY(1.1);transform-origin:0 12.70px;-webkit-text-stroke:0.06px currentColor">7....</div>
<div class="a t" style="left:883.8px;width:60px;text-align:right;top:714.40px;font-size:15px;line-height:15px;color:#ff0a1e;white-space:nowrap;transform:scaleY(1.1);transform-origin:0 12.70px;-webkit-text-stroke:0.06px currentColor">28.00</div>
<div class="a t" style="left:951px;width:30px;text-align:right;top:714.40px;font-size:15px;line-height:15px;color:#ff0a1e;white-space:nowrap;transform:scaleY(1.1);transform-origin:0 12.70px;-webkit-text-stroke:0.06px currentColor">1</div>
<div class="a t" style="left:991px;top:714.40px;font-size:15px;line-height:15px;color:#ff0a1e;white-space:nowrap;transform:scaleY(1.1);transform-origin:0 12.70px;-webkit-text-stroke:0.06px currentColor">Day</div>
<div class="a t" style="left:1026px;width:80px;text-align:right;top:714.40px;font-size:15px;line-height:15px;color:#ff0a1e;white-space:nowrap;transform:scaleY(1.1);transform-origin:0 12.70px;-webkit-text-stroke:0.06px currentColor">4000.00</div>
<div class="a t" style="left:1101px;width:80px;text-align:right;top:714.40px;font-size:15px;line-height:15px;color:#ff0a1e;white-space:nowrap;transform:scaleY(1.1);transform-origin:0 12.70px;-webkit-text-stroke:0.06px currentColor">4000.00</div>
<div class="a t" style="left:1170.1px;width:80px;text-align:right;top:714.40px;font-size:15px;line-height:15px;color:#ff0a1e;white-space:nowrap;transform:scaleY(1.1);transform-origin:0 12.70px;-webkit-text-stroke:0.06px currentColor">10.00</div>
<div class="a t" style="left:1244.5px;width:80px;text-align:right;top:714.40px;font-size:15px;line-height:15px;color:#ff0a1e;white-space:nowrap;transform:scaleY(1.1);transform-origin:0 12.70px;-webkit-text-stroke:0.06px currentColor">3600.00</div>
<div class="a t" style="left:1319.8px;width:80px;text-align:right;top:714.40px;font-size:15px;line-height:15px;color:#ff0a1e;white-space:nowrap;transform:scaleY(1.1);transform-origin:0 12.70px;-webkit-text-stroke:0.06px currentColor">10.00</div>
<div class="a t" style="left:1413.6px;width:80px;text-align:right;top:714.40px;font-size:15px;line-height:15px;color:#ff0a1e;white-space:nowrap;transform:scaleY(1.1);transform-origin:0 12.70px;-webkit-text-stroke:0.06px currentColor">3600.00</div>
<div class="a" style="left:5.5px;top:871.4px;width:745.5px;height:12.6px;background:#e5e5e5"></div>
<div class="a" style="left:2px;top:885px;width:1500px;height:1.5px;background:#a9a9a9"></div>
<div class="a" style="left:1498px;top:471.5px;width:4px;height:400px;background:#fff"></div>
<div class="a" style="left:1499px;top:471.5px;width:1px;height:400px;background:#e6e6e6"></div>
<div class="a" style="left:11.2px;top:890.2px;width:67.8px;height:28.8px;border:1.2px solid #cfcfcf;box-sizing:border-box;background:#fff"></div>
<div class="a t" style="left:12.0px;width:66px;text-align:center;top:897.88px;font-size:15.5px;line-height:15.5px;color:#1f1f24;transform:scaleY(1.1);transform-origin:0 13.12px;-webkit-text-stroke:0.06px currentColor">Legend</div>
<div class="a t" style="left:180.9px;top:894.67px;font-size:14.8px;line-height:14.8px;color:#1f1f24;transform:scaleY(1.1);transform-origin:0 12.53px;-webkit-text-stroke:0.06px currentColor">Items</div>
<div class="a" style="left:236px;top:890.2px;width:124.4px;height:29.8px;border:1.2px solid #cfcfcf;box-sizing:border-box;background:#f2f1f3"></div>
<div class="a t" style="left:238.8px;top:898.26px;font-size:16px;line-height:16px;font-weight:bold;color:#111;letter-spacing:0.95px;transform:scaleY(1.1);transform-origin:0 13.54px;-webkit-text-stroke:0px currentColor">$ 47600.00</div>
<div class="a t" style="left:377.5px;top:894.67px;font-size:14.8px;line-height:14.8px;color:#1f1f24;transform:scaleY(1.1);transform-origin:0 12.53px;-webkit-text-stroke:0.06px currentColor">Labor</div>
<div class="a" style="left:436.2px;top:890.2px;width:124.2px;height:29.8px;border:1.2px solid #cfcfcf;box-sizing:border-box;background:#f2f1f3"></div>
<div class="a t" style="left:439.0px;top:898.26px;font-size:16px;line-height:16px;font-weight:bold;color:#111;letter-spacing:0.95px;transform:scaleY(1.1);transform-origin:0 13.54px;-webkit-text-stroke:0px currentColor">$</div>
<div class="a t" style="left:571.4px;top:894.76px;font-size:14.7px;line-height:14.7px;color:#1f1f24;transform:scaleY(1.1);transform-origin:0 12.44px;-webkit-text-stroke:0.06px currentColor">Subtotal</div>
<div class="a" style="left:648.3px;top:890.2px;width:124.2px;height:29.8px;border:1.2px solid #cfcfcf;box-sizing:border-box;background:#f2f1f3"></div>
<div class="a t" style="left:651.0999999999999px;top:898.26px;font-size:16px;line-height:16px;font-weight:bold;color:#111;letter-spacing:0.95px;transform:scaleY(1.1);transform-origin:0 13.54px;-webkit-text-stroke:0px currentColor">$ 47600.00</div>
<div class="a t" style="left:783.5px;top:894.76px;font-size:14.7px;line-height:14.7px;color:#1f1f24;transform:scaleY(1.1);transform-origin:0 12.44px;-webkit-text-stroke:0.06px currentColor">Tax</div>
<div class="a" style="left:829.8px;top:890.2px;width:123.8px;height:29.8px;border:1.2px solid #cfcfcf;box-sizing:border-box;background:#f2f1f3"></div>
<div class="a t" style="left:832.5999999999999px;top:898.26px;font-size:16px;line-height:16px;font-weight:bold;color:#111;letter-spacing:0.95px;transform:scaleY(1.1);transform-origin:0 13.54px;-webkit-text-stroke:0px currentColor">$</div>
<div class="a" style="left:1008.3px;top:890.4px;width:112px;height:29.6px;border:1.2px solid #cfcfcf;box-sizing:border-box;background:#fff"></div>
<div class="a t" style="left:1015.0px;width:100px;text-align:center;top:898.76px;font-size:16px;line-height:16px;font-weight:bold;color:#111;letter-spacing:0.8px;transform:scaleY(1.1);transform-origin:0 13.54px;-webkit-text-stroke:0px currentColor">Total</div>
<div class="a" style="left:1124.8px;top:890.2px;width:123.8px;height:29.8px;border:1.2px solid #cfcfcf;box-sizing:border-box;background:#f2f1f3"></div>
<div class="a t" style="left:1127.6px;top:898.26px;font-size:16px;line-height:16px;font-weight:bold;color:#111;letter-spacing:0.95px;transform:scaleY(1.1);transform-origin:0 13.54px;-webkit-text-stroke:0px currentColor">$ 47600.00</div>
<div class="a" style="left:2px;top:932.6px;width:1500px;height:2.2px;background:#8c8c90"></div>
</div></body></html>
